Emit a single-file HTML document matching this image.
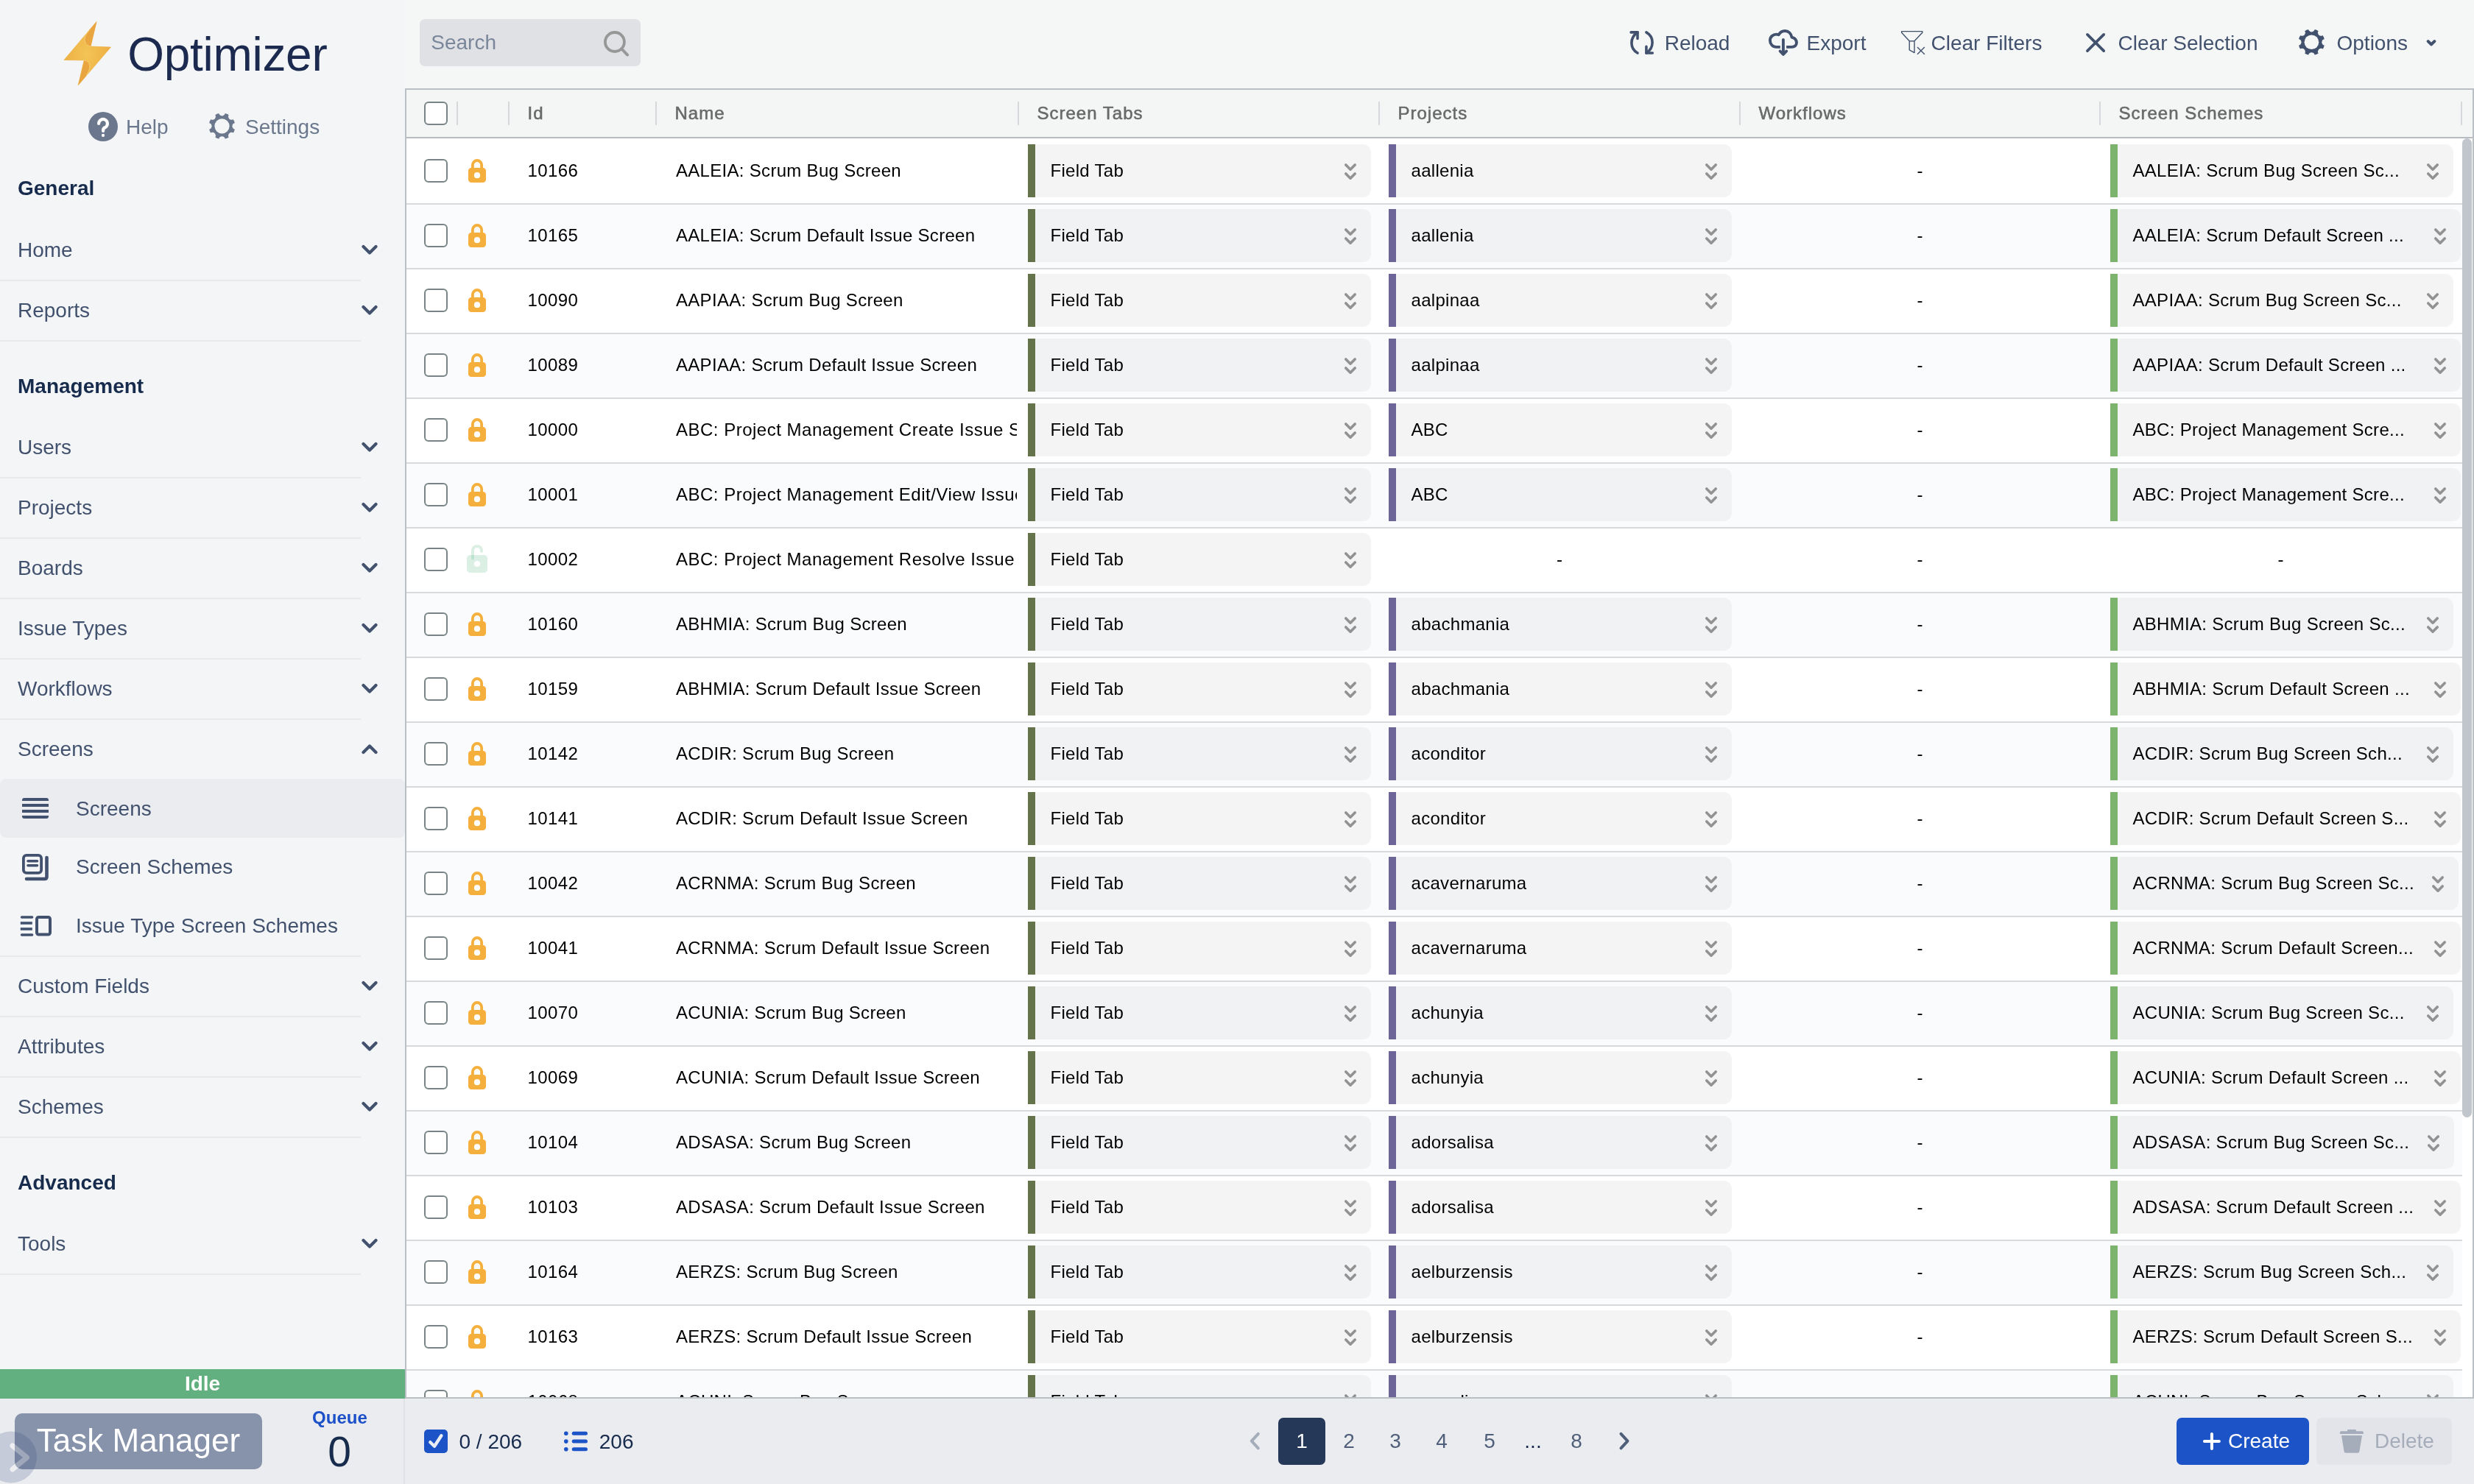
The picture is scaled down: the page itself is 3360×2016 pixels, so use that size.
<!DOCTYPE html>
<html><head><meta charset="utf-8"><title>Optimizer - Screens</title>
<style>
html,body{margin:0;padding:0;}
body{width:3360px;height:2016px;overflow:hidden;position:relative;background:#F5F6F6;font-family:"Liberation Sans", Arial, Helvetica, sans-serif;-webkit-font-smoothing:antialiased;}
.t{position:absolute;white-space:nowrap;}
.r{position:absolute;}
svg.r{overflow:visible;}
#root{position:absolute;left:0;top:0;width:3360px;height:2016px;overflow:hidden;will-change:transform;transform-origin:0 0;}
@media (max-width:2000px){body{width:1680px;height:1008px;} #root{transform:scale(0.5);}}
</style></head><body>
<div id="root">
<div class="r" style="left:0px;top:0px;width:550px;height:1860px;background:#F4F5F7;"></div>
<div class="r" style="left:550px;top:0px;width:2810px;height:1900px;background:#F5F6F6;"></div>
<svg class="r" style="left:80px;top:20px;" width="80" height="104" viewBox="0 0 80 104">
<defs><radialGradient id="bg1" cx="0.48" cy="0.5" r="0.6">
<stop offset="0" stop-color="#F4C456"/><stop offset="0.7" stop-color="#EEB347"/><stop offset="1" stop-color="#E9A23E"/></radialGradient></defs>
<polygon points="51.1,9.5 43.1,43.1 70.4,44.1 26.3,95.6 34.3,61.8 7,61.5" fill="url(#bg1)" stroke="#EFB24A" stroke-width="0.8" stroke-linejoin="round"/>
<path d="M51.1,9.5 L41.4,21 C36.5,26.5 34.6,30.5 35,35 C35.6,39.5 39,42.5 43.1,43.1 Z" fill="#E8A33F" opacity="0.9"/>
<path d="M41.4,21 C36.5,26.5 34.6,30.5 35,35 C35.6,39.5 39,42.5 43.1,43.1" fill="none" stroke="#F9D77C" stroke-width="0.9"/>
<path d="M26.3,95.6 L34.3,61.8 C38.5,62.3 42,65.5 42,70 C42,74.5 39.5,79 37.3,82.7 Z" fill="#E8A33F" opacity="0.9"/>
<path d="M34.3,61.8 C38.5,62.3 42,65.5 42,70 C42,74.5 39.5,79 37.3,82.7" fill="none" stroke="#F9D77C" stroke-width="0.9"/>
</svg>
<div class="t" style="left:173.3px;top:41.82px;font-size:64px;line-height:64px;color:#1B2A4E;font-weight:400;letter-spacing:-0.3px;">Optimizer</div>
<svg class="r" style="left:118px;top:150px;" width="44" height="44" viewBox="0 0 44 44">
<circle cx="22" cy="22" r="20" fill="#6B778C"/>
<path d="M16.1,17.9 A5.9,5.9 0 1 1 25,23 C23.2,23.9 22.1,24.9 22.1,26.5 L22.1,27.9" fill="none" stroke="#fff" stroke-width="4.2" stroke-linecap="round" stroke-linejoin="round"/>
<circle cx="22" cy="33.9" r="2.15" fill="#fff"/>
</svg>
<div class="t" style="left:171.0px;top:159.30px;font-size:28px;line-height:28px;color:#6B778C;font-weight:400;">Help</div>
<svg class="r" style="left:282px;top:152px;" width="40" height="40" viewBox="0 0 40 40"><circle cx="19.5" cy="19.3" r="17.9" fill="#6B778C"/><circle cx="19.50" cy="1.00" r="4.40" fill="#F4F5F7"/><circle cx="32.44" cy="6.36" r="4.40" fill="#F4F5F7"/><circle cx="37.80" cy="19.30" r="4.40" fill="#F4F5F7"/><circle cx="32.44" cy="32.24" r="4.40" fill="#F4F5F7"/><circle cx="19.50" cy="37.60" r="4.40" fill="#F4F5F7"/><circle cx="6.56" cy="32.24" r="4.40" fill="#F4F5F7"/><circle cx="1.20" cy="19.30" r="4.40" fill="#F4F5F7"/><circle cx="6.56" cy="6.36" r="4.40" fill="#F4F5F7"/><circle cx="19.5" cy="19.3" r="10.1" fill="#F4F5F7"/></svg>
<div class="t" style="left:333.0px;top:159.30px;font-size:28px;line-height:28px;color:#6B778C;font-weight:400;">Settings</div>
<div class="t" style="left:24.0px;top:242.30px;font-size:28px;line-height:28px;color:#172B4D;font-weight:700;">General</div>
<div class="t" style="left:24.0px;top:326.30px;font-size:28px;line-height:28px;color:#42526E;font-weight:400;">Home</div>
<svg class="r" style="left:489px;top:330px;" width="26" height="20" viewBox="0 0 26 20"><polyline points="4.5,5 13,13.5 21.5,5" fill="none" stroke="#42526E" stroke-width="4.2" stroke-linecap="round" stroke-linejoin="round"/></svg>
<div class="r" style="left:0px;top:380px;width:490px;height:2px;background:#E8E9ED;"></div>
<div class="t" style="left:24.0px;top:408.30px;font-size:28px;line-height:28px;color:#42526E;font-weight:400;">Reports</div>
<svg class="r" style="left:489px;top:412px;" width="26" height="20" viewBox="0 0 26 20"><polyline points="4.5,5 13,13.5 21.5,5" fill="none" stroke="#42526E" stroke-width="4.2" stroke-linecap="round" stroke-linejoin="round"/></svg>
<div class="r" style="left:0px;top:462px;width:490px;height:2px;background:#E8E9ED;"></div>
<div class="t" style="left:24.0px;top:510.80px;font-size:28px;line-height:28px;color:#172B4D;font-weight:700;">Management</div>
<div class="t" style="left:24.0px;top:594.30px;font-size:28px;line-height:28px;color:#42526E;font-weight:400;">Users</div>
<svg class="r" style="left:489px;top:598px;" width="26" height="20" viewBox="0 0 26 20"><polyline points="4.5,5 13,13.5 21.5,5" fill="none" stroke="#42526E" stroke-width="4.2" stroke-linecap="round" stroke-linejoin="round"/></svg>
<div class="r" style="left:0px;top:648px;width:490px;height:2px;background:#E8E9ED;"></div>
<div class="t" style="left:24.0px;top:676.30px;font-size:28px;line-height:28px;color:#42526E;font-weight:400;">Projects</div>
<svg class="r" style="left:489px;top:680px;" width="26" height="20" viewBox="0 0 26 20"><polyline points="4.5,5 13,13.5 21.5,5" fill="none" stroke="#42526E" stroke-width="4.2" stroke-linecap="round" stroke-linejoin="round"/></svg>
<div class="r" style="left:0px;top:730px;width:490px;height:2px;background:#E8E9ED;"></div>
<div class="t" style="left:24.0px;top:758.30px;font-size:28px;line-height:28px;color:#42526E;font-weight:400;">Boards</div>
<svg class="r" style="left:489px;top:762px;" width="26" height="20" viewBox="0 0 26 20"><polyline points="4.5,5 13,13.5 21.5,5" fill="none" stroke="#42526E" stroke-width="4.2" stroke-linecap="round" stroke-linejoin="round"/></svg>
<div class="r" style="left:0px;top:812px;width:490px;height:2px;background:#E8E9ED;"></div>
<div class="t" style="left:24.0px;top:840.30px;font-size:28px;line-height:28px;color:#42526E;font-weight:400;">Issue Types</div>
<svg class="r" style="left:489px;top:844px;" width="26" height="20" viewBox="0 0 26 20"><polyline points="4.5,5 13,13.5 21.5,5" fill="none" stroke="#42526E" stroke-width="4.2" stroke-linecap="round" stroke-linejoin="round"/></svg>
<div class="r" style="left:0px;top:894px;width:490px;height:2px;background:#E8E9ED;"></div>
<div class="t" style="left:24.0px;top:922.30px;font-size:28px;line-height:28px;color:#42526E;font-weight:400;">Workflows</div>
<svg class="r" style="left:489px;top:926px;" width="26" height="20" viewBox="0 0 26 20"><polyline points="4.5,5 13,13.5 21.5,5" fill="none" stroke="#42526E" stroke-width="4.2" stroke-linecap="round" stroke-linejoin="round"/></svg>
<div class="r" style="left:0px;top:976px;width:490px;height:2px;background:#E8E9ED;"></div>
<div class="t" style="left:24.0px;top:1004.30px;font-size:28px;line-height:28px;color:#42526E;font-weight:400;">Screens</div>
<svg class="r" style="left:489px;top:1008px;" width="26" height="20" viewBox="0 0 26 20"><polyline points="4.5,14 13,5.5 21.5,14" fill="none" stroke="#42526E" stroke-width="4.2" stroke-linecap="round" stroke-linejoin="round"/></svg>
<div class="r" style="left:0px;top:1058px;width:550px;height:80px;background:#EBECF0;border-radius:8px;"></div>
<svg class="r" style="left:28px;top:1080px;" width="40" height="36" viewBox="0 0 40 36">
<rect x="2" y="4" width="36" height="28" rx="3" fill="#42526E"/>
<rect x="0" y="8" width="40" height="4" fill="#EBECF0"/>
<rect x="0" y="16" width="40" height="4" fill="#EBECF0"/>
<rect x="0" y="24" width="40" height="4" fill="#EBECF0"/>
</svg>
<div class="t" style="left:103.0px;top:1084.70px;font-size:28px;line-height:28px;color:#42526E;font-weight:400;">Screens</div>
<svg class="r" style="left:28px;top:1156px;" width="42" height="44" viewBox="0 0 42 44">
<rect x="3.9" y="5.9" width="24.2" height="24" rx="4" fill="none" stroke="#42526E" stroke-width="3.8"/>
<line x1="10" y1="13.8" x2="22.5" y2="13.8" stroke="#42526E" stroke-width="3.6" stroke-linecap="round"/>
<line x1="10" y1="19.8" x2="22.5" y2="19.8" stroke="#42526E" stroke-width="3.6" stroke-linecap="round"/>
<path d="M35.5,9 L35.5,35 Q35.5,38 32.5,38 L8,38" fill="none" stroke="#42526E" stroke-width="4.6" stroke-linecap="round" stroke-linejoin="round"/>
</svg>
<div class="t" style="left:103.0px;top:1164.30px;font-size:28px;line-height:28px;color:#42526E;font-weight:400;">Screen Schemes</div>
<svg class="r" style="left:26px;top:1240px;" width="46" height="36" viewBox="0 0 46 36">
<line x1="3.6" y1="6" x2="17.6" y2="6" stroke="#42526E" stroke-width="3.6" stroke-linecap="round"/>
<line x1="1.8" y1="14" x2="17.8" y2="14" stroke="#42526E" stroke-width="3.6"/>
<line x1="1.8" y1="22" x2="17.8" y2="22" stroke="#42526E" stroke-width="3.6"/>
<line x1="3.6" y1="30" x2="17.6" y2="30" stroke="#42526E" stroke-width="3.6" stroke-linecap="round"/>
<rect x="24" y="6" width="18" height="23.6" rx="2.5" fill="none" stroke="#42526E" stroke-width="4"/>
</svg>
<div class="t" style="left:103.0px;top:1244.30px;font-size:28px;line-height:28px;color:#42526E;font-weight:400;">Issue Type Screen Schemes</div>
<div class="r" style="left:0px;top:1298px;width:490px;height:2px;background:#E8E9ED;"></div>
<div class="t" style="left:24.0px;top:1326.30px;font-size:28px;line-height:28px;color:#42526E;font-weight:400;">Custom Fields</div>
<svg class="r" style="left:489px;top:1330px;" width="26" height="20" viewBox="0 0 26 20"><polyline points="4.5,5 13,13.5 21.5,5" fill="none" stroke="#42526E" stroke-width="4.2" stroke-linecap="round" stroke-linejoin="round"/></svg>
<div class="r" style="left:0px;top:1380px;width:490px;height:2px;background:#E8E9ED;"></div>
<div class="t" style="left:24.0px;top:1408.30px;font-size:28px;line-height:28px;color:#42526E;font-weight:400;">Attributes</div>
<svg class="r" style="left:489px;top:1412px;" width="26" height="20" viewBox="0 0 26 20"><polyline points="4.5,5 13,13.5 21.5,5" fill="none" stroke="#42526E" stroke-width="4.2" stroke-linecap="round" stroke-linejoin="round"/></svg>
<div class="r" style="left:0px;top:1462px;width:490px;height:2px;background:#E8E9ED;"></div>
<div class="t" style="left:24.0px;top:1490.30px;font-size:28px;line-height:28px;color:#42526E;font-weight:400;">Schemes</div>
<svg class="r" style="left:489px;top:1494px;" width="26" height="20" viewBox="0 0 26 20"><polyline points="4.5,5 13,13.5 21.5,5" fill="none" stroke="#42526E" stroke-width="4.2" stroke-linecap="round" stroke-linejoin="round"/></svg>
<div class="r" style="left:0px;top:1544px;width:490px;height:2px;background:#E8E9ED;"></div>
<div class="t" style="left:24.0px;top:1592.80px;font-size:28px;line-height:28px;color:#172B4D;font-weight:700;">Advanced</div>
<div class="t" style="left:24.0px;top:1676.30px;font-size:28px;line-height:28px;color:#42526E;font-weight:400;">Tools</div>
<svg class="r" style="left:489px;top:1680px;" width="26" height="20" viewBox="0 0 26 20"><polyline points="4.5,5 13,13.5 21.5,5" fill="none" stroke="#42526E" stroke-width="4.2" stroke-linecap="round" stroke-linejoin="round"/></svg>
<div class="r" style="left:0px;top:1730px;width:490px;height:2px;background:#E8E9ED;"></div>
<div class="r" style="left:0px;top:1860px;width:550px;height:40px;background:#62B07F;"></div>
<div class="t" style="left:75.0px;width:400px;text-align:center;top:1866.30px;font-size:28px;line-height:28px;color:#FFFFFF;font-weight:700;">Idle</div>
<div class="r" style="left:0px;top:1900px;width:3360px;height:116px;background:#EBECF0;"></div>
<div class="r" style="left:548px;top:1900px;width:2px;height:116px;background:#DFE1E6;"></div>
<div class="r" style="left:20px;top:1920px;width:336px;height:76px;background:#8792AB;border-radius:10px;"></div>
<div class="t" style="left:20.0px;width:336px;text-align:center;top:1935.15px;font-size:44px;line-height:44px;color:#FFFFFF;font-weight:400;">Task Manager</div>
<div class="t" style="left:401.4px;width:120px;text-align:center;top:1913.68px;font-size:24px;line-height:24px;color:#1B50C9;font-weight:700;">Queue</div>
<div class="t" style="left:401.0px;width:120px;text-align:center;top:1943.75px;font-size:57px;line-height:57px;color:#172B4D;font-weight:400;">0</div>
<svg class="r" style="left:0px;top:1940px;" width="60" height="76" viewBox="0 0 60 76">
<g opacity="0.2"><circle cx="15" cy="39.5" r="35" fill="#2D4C7D"/>
<polyline points="17,24 36.5,40 17,56" fill="none" stroke="#FFFFFF" stroke-width="7" stroke-linecap="round" stroke-linejoin="round"/></g>
</svg>
<div class="r" style="left:570px;top:26px;width:300px;height:64px;background:#E0E1E5;border-radius:7px;"></div>
<div class="t" style="left:585.3px;top:44.30px;font-size:28px;line-height:28px;color:#7A869A;font-weight:400;">Search</div>
<svg class="r" style="left:818px;top:38px;" width="44" height="44" viewBox="0 0 44 44"><circle cx="16.9" cy="19" r="13" fill="none" stroke="#979797" stroke-width="3.8"/><line x1="26.5" y1="28.6" x2="34.1" y2="36.6" stroke="#979797" stroke-width="3.8" stroke-linecap="round"/></svg>
<svg class="r" style="left:2208px;top:36px;" width="44" height="44" viewBox="0 0 44 44">
<g fill="none" stroke="#42526E" stroke-width="3.6" stroke-linecap="round" stroke-linejoin="round">
<path d="M7.1,7.9 L16,7.9 L16,16.5"/>
<path d="M16,7.9 C10.5,11.5 7.9,16.5 7.9,22.2 C7.9,28.2 11.2,33.2 16,36"/>
<path d="M27.9,7.9 C32.9,10.8 36.1,16 36.1,21.8 C36.1,27.5 33.4,32.5 27.9,36"/>
<path d="M27.9,27.4 L27.9,36 L36.3,36"/>
</g></svg>
<div class="t" style="left:2260.7px;top:44.90px;font-size:28px;line-height:28px;color:#42526E;font-weight:400;">Reload</div>
<svg class="r" style="left:2396px;top:34px;" width="52" height="46" viewBox="0 0 52 46">
<path d="M21.8,29.85 L16.5,29.85 C11.5,29.85 7.95,25.8 7.95,21 C7.95,16.2 11.8,12.65 16.6,12.65 C17.6,12.65 18.6,12.8 19.6,13.2 C21.6,9.8 24.6,7.99 28.2,7.99 C33,7.99 36.5,11.5 37.5,16.6 C41.4,17.6 43.95,20.6 43.95,24.1 C43.95,27.6 41.3,29.85 37.6,29.85 L30.1,29.85" fill="none" stroke="#42526E" stroke-width="3.9" stroke-linejoin="round"/>
<line x1="25.9" y1="20" x2="25.9" y2="38.5" stroke="#42526E" stroke-width="3.9" stroke-linecap="round"/>
<polyline points="21.6,35.5 25.9,39.85 30.2,35.5" fill="none" stroke="#42526E" stroke-width="3.9" stroke-linecap="round" stroke-linejoin="round"/>
</svg>
<div class="t" style="left:2453.5px;top:44.90px;font-size:28px;line-height:28px;color:#42526E;font-weight:400;">Export</div>
<svg class="r" style="left:2580px;top:40px;" width="40" height="36" viewBox="0 0 40 36">
<path d="M2.6,2.6 L30.8,2.6 L30.8,4.3 L20,15.8 L20,31.6 L13.2,27.8 L13.2,15.8 L2.6,4.3 Z" fill="none" stroke="#42526E" stroke-width="1.4" stroke-linejoin="round"/>
<line x1="13.2" y1="15.8" x2="20" y2="15.8" stroke="#42526E" stroke-width="1.4"/>
<line x1="24" y1="24" x2="33.8" y2="33.8" stroke="#42526E" stroke-width="1.4"/>
<line x1="33.8" y1="24" x2="24" y2="33.8" stroke="#42526E" stroke-width="1.4"/>
</svg>
<div class="t" style="left:2622.5px;top:44.90px;font-size:28px;line-height:28px;color:#42526E;font-weight:400;">Clear Filters</div>
<svg class="r" style="left:2830px;top:42px;" width="32" height="32" viewBox="0 0 32 32">
<line x1="4.9" y1="4.85" x2="27.2" y2="27.15" stroke="#42526E" stroke-width="3.7" stroke-linecap="round"/>
<line x1="27.2" y1="4.85" x2="4.9" y2="27.15" stroke="#42526E" stroke-width="3.7" stroke-linecap="round"/>
</svg>
<div class="t" style="left:2876.6px;top:44.90px;font-size:28px;line-height:28px;color:#42526E;font-weight:400;">Clear Selection</div>
<svg class="r" style="left:3118px;top:36px;" width="44" height="44" viewBox="0 0 44 44"><circle cx="21.4" cy="21.3" r="17.9" fill="#42526E"/><circle cx="21.40" cy="3.00" r="4.40" fill="#F5F6F6"/><circle cx="34.34" cy="8.36" r="4.40" fill="#F5F6F6"/><circle cx="39.70" cy="21.30" r="4.40" fill="#F5F6F6"/><circle cx="34.34" cy="34.24" r="4.40" fill="#F5F6F6"/><circle cx="21.40" cy="39.60" r="4.40" fill="#F5F6F6"/><circle cx="8.46" cy="34.24" r="4.40" fill="#F5F6F6"/><circle cx="3.10" cy="21.30" r="4.40" fill="#F5F6F6"/><circle cx="8.46" cy="8.36" r="4.40" fill="#F5F6F6"/><circle cx="21.4" cy="21.3" r="9.8" fill="#F5F6F6"/></svg>
<div class="t" style="left:3173.5px;top:44.90px;font-size:28px;line-height:28px;color:#42526E;font-weight:400;">Options</div>
<svg class="r" style="left:3290px;top:48px;" width="24" height="20" viewBox="0 0 24 20"><polyline points="7.7,8.1 12,12.4 16.3,8.1" fill="none" stroke="#42526E" stroke-width="4.1" stroke-linecap="round" stroke-linejoin="round"/></svg>
<div class="r" style="left:550px;top:120px;width:2810px;height:2px;background:#BABFC4;"></div>
<div class="r" style="left:550px;top:120px;width:2px;height:1780px;background:#BABFC4;"></div>
<div class="r" style="left:3358px;top:120px;width:2px;height:1780px;background:#BABFC4;"></div>
<div class="r" style="left:550px;top:1898px;width:2810px;height:2px;background:#BABFC4;"></div>
<div class="r" style="left:552px;top:122px;width:2806px;height:64px;background:#F4F6F5;"></div>
<div class="r" style="left:552px;top:186px;width:2806px;height:2px;background:#B8BCC0;"></div>
<div class="r" style="left:620px;top:138px;width:2px;height:32px;background:#D5D9DC;"></div>
<div class="r" style="left:690px;top:138px;width:2px;height:32px;background:#D5D9DC;"></div>
<div class="r" style="left:890px;top:138px;width:2px;height:32px;background:#D5D9DC;"></div>
<div class="r" style="left:1382px;top:138px;width:2px;height:32px;background:#D5D9DC;"></div>
<div class="r" style="left:1872px;top:138px;width:2px;height:32px;background:#D5D9DC;"></div>
<div class="r" style="left:2362px;top:138px;width:2px;height:32px;background:#D5D9DC;"></div>
<div class="r" style="left:2851px;top:138px;width:2px;height:32px;background:#D5D9DC;"></div>
<div class="r" style="left:3342px;top:138px;width:2px;height:32px;background:#D5D9DC;"></div>
<div class="r" style="left:576px;top:138px;width:28px;height:28px;border:2px solid #7A8486;border-radius:6px;background:#FFFFFF;"></div>
<div class="t" style="left:716.5px;top:141.88px;font-size:24px;line-height:24px;color:#686969;font-weight:400;letter-spacing:1.0px;-webkit-text-stroke:0.55px #686969;">Id</div>
<div class="t" style="left:916.5px;top:141.88px;font-size:24px;line-height:24px;color:#686969;font-weight:400;letter-spacing:1.0px;-webkit-text-stroke:0.55px #686969;">Name</div>
<div class="t" style="left:1408.5px;top:141.88px;font-size:24px;line-height:24px;color:#686969;font-weight:400;letter-spacing:1.0px;-webkit-text-stroke:0.55px #686969;">Screen Tabs</div>
<div class="t" style="left:1898.5px;top:141.88px;font-size:24px;line-height:24px;color:#686969;font-weight:400;letter-spacing:1.0px;-webkit-text-stroke:0.55px #686969;">Projects</div>
<div class="t" style="left:2388.5px;top:141.88px;font-size:24px;line-height:24px;color:#686969;font-weight:400;letter-spacing:1.0px;-webkit-text-stroke:0.55px #686969;">Workflows</div>
<div class="t" style="left:2877.5px;top:141.88px;font-size:24px;line-height:24px;color:#686969;font-weight:400;letter-spacing:1.0px;-webkit-text-stroke:0.55px #686969;">Screen Schemes</div>
<div class="r" style="left:552px;top:188px;width:2792px;height:88px;background:#FFFFFF;"></div>
<div class="r" style="left:552px;top:276px;width:2792px;height:2px;background:#D8D9DB;"></div>
<div class="r" style="left:576px;top:216px;width:28px;height:28px;border:2px solid #7A8486;border-radius:6px;background:#FFFFFF;"></div>
<svg class="r" style="left:635px;top:216px;" width="26" height="33" viewBox="0 0 26 33"><rect x="1" y="12" width="24" height="20" rx="4.2" fill="#F4AF3D"/>
<path d="M6.9,13 L6.9,8.1 A6.1,6.1 0 0 1 19.1,8.1 L19.1,13" fill="none" stroke="#F4AF3D" stroke-width="3.8"/>
<circle cx="13" cy="22.2" r="4.1" fill="#FFFFFF"/></svg>
<div class="t" style="left:716.5px;top:220.08px;font-size:24px;line-height:24px;color:#000000;font-weight:400;letter-spacing:0.4px;">10166</div>
<div class="r" style="left:891px;top:212px;width:490px;height:40px;overflow:hidden;">
<div class="t" style="left:27.0px;top:8.08px;font-size:24px;line-height:24px;color:#000000;font-weight:400;white-space:nowrap;letter-spacing:0.3px;">AALEIA: Scrum Bug Screen</div>
</div>
<div class="r" style="left:1396px;top:196px;width:466px;height:72px;background:#F4F4F4;border-radius:0 11px 11px 0;"></div>
<div class="r" style="left:1396px;top:196px;width:10px;height:72px;background:#65734A;"></div>
<div class="t" style="left:1426.5px;top:220.08px;font-size:24px;line-height:24px;color:#000000;font-weight:400;white-space:nowrap;letter-spacing:0.3px;">Field Tab</div>
<svg class="r" style="left:1822px;top:218px;" width="24" height="28" viewBox="0 0 24 28">
<polyline points="5.8,6 12,12.2 18.2,6" fill="none" stroke="#929292" stroke-width="3.6" stroke-linecap="round" stroke-linejoin="round"/>
<polyline points="5.8,18 12,24.2 18.2,18" fill="none" stroke="#929292" stroke-width="3.6" stroke-linecap="round" stroke-linejoin="round"/>
</svg>
<div class="r" style="left:1886px;top:196px;width:466px;height:72px;background:#F4F4F4;border-radius:0 11px 11px 0;"></div>
<div class="r" style="left:1886px;top:196px;width:10px;height:72px;background:#6D6598;"></div>
<div class="t" style="left:1916.5px;top:220.08px;font-size:24px;line-height:24px;color:#000000;font-weight:400;white-space:nowrap;letter-spacing:0.3px;">aallenia</div>
<svg class="r" style="left:2312px;top:218px;" width="24" height="28" viewBox="0 0 24 28">
<polyline points="5.8,6 12,12.2 18.2,6" fill="none" stroke="#929292" stroke-width="3.6" stroke-linecap="round" stroke-linejoin="round"/>
<polyline points="5.8,18 12,24.2 18.2,18" fill="none" stroke="#929292" stroke-width="3.6" stroke-linecap="round" stroke-linejoin="round"/>
</svg>
<div class="t" style="left:2407.5px;width:400px;text-align:center;top:220.08px;font-size:24px;line-height:24px;color:#000000;font-weight:400;">-</div>
<div class="r" style="left:2866px;top:196px;width:466px;height:72px;background:#F4F4F4;border-radius:0 11px 11px 0;"></div>
<div class="r" style="left:2866px;top:196px;width:10px;height:72px;background:#7DB46D;"></div>
<div class="t" style="left:2896.5px;top:220.08px;font-size:24px;line-height:24px;color:#000000;font-weight:400;white-space:nowrap;letter-spacing:0.3px;">AALEIA: Scrum Bug Screen Sc...</div>
<svg class="r" style="left:3292px;top:218px;" width="24" height="28" viewBox="0 0 24 28">
<polyline points="5.8,6 12,12.2 18.2,6" fill="none" stroke="#929292" stroke-width="3.6" stroke-linecap="round" stroke-linejoin="round"/>
<polyline points="5.8,18 12,24.2 18.2,18" fill="none" stroke="#929292" stroke-width="3.6" stroke-linecap="round" stroke-linejoin="round"/>
</svg>
<div class="r" style="left:552px;top:278px;width:2792px;height:86px;background:#FAFBFD;"></div>
<div class="r" style="left:552px;top:364px;width:2792px;height:2px;background:#D8D9DB;"></div>
<div class="r" style="left:576px;top:304px;width:28px;height:28px;border:2px solid #7A8486;border-radius:6px;background:#FFFFFF;"></div>
<svg class="r" style="left:635px;top:304px;" width="26" height="33" viewBox="0 0 26 33"><rect x="1" y="12" width="24" height="20" rx="4.2" fill="#F4AF3D"/>
<path d="M6.9,13 L6.9,8.1 A6.1,6.1 0 0 1 19.1,8.1 L19.1,13" fill="none" stroke="#F4AF3D" stroke-width="3.8"/>
<circle cx="13" cy="22.2" r="4.1" fill="#FFFFFF"/></svg>
<div class="t" style="left:716.5px;top:308.08px;font-size:24px;line-height:24px;color:#000000;font-weight:400;letter-spacing:0.4px;">10165</div>
<div class="r" style="left:891px;top:300px;width:490px;height:40px;overflow:hidden;">
<div class="t" style="left:27.0px;top:8.08px;font-size:24px;line-height:24px;color:#000000;font-weight:400;white-space:nowrap;letter-spacing:0.3px;">AALEIA: Scrum Default Issue Screen</div>
</div>
<div class="r" style="left:1396px;top:284px;width:466px;height:72px;background:#F1F2F4;border-radius:0 11px 11px 0;"></div>
<div class="r" style="left:1396px;top:284px;width:10px;height:72px;background:#65734A;"></div>
<div class="t" style="left:1426.5px;top:308.08px;font-size:24px;line-height:24px;color:#000000;font-weight:400;white-space:nowrap;letter-spacing:0.3px;">Field Tab</div>
<svg class="r" style="left:1822px;top:306px;" width="24" height="28" viewBox="0 0 24 28">
<polyline points="5.8,6 12,12.2 18.2,6" fill="none" stroke="#929292" stroke-width="3.6" stroke-linecap="round" stroke-linejoin="round"/>
<polyline points="5.8,18 12,24.2 18.2,18" fill="none" stroke="#929292" stroke-width="3.6" stroke-linecap="round" stroke-linejoin="round"/>
</svg>
<div class="r" style="left:1886px;top:284px;width:466px;height:72px;background:#F1F2F4;border-radius:0 11px 11px 0;"></div>
<div class="r" style="left:1886px;top:284px;width:10px;height:72px;background:#6D6598;"></div>
<div class="t" style="left:1916.5px;top:308.08px;font-size:24px;line-height:24px;color:#000000;font-weight:400;white-space:nowrap;letter-spacing:0.3px;">aallenia</div>
<svg class="r" style="left:2312px;top:306px;" width="24" height="28" viewBox="0 0 24 28">
<polyline points="5.8,6 12,12.2 18.2,6" fill="none" stroke="#929292" stroke-width="3.6" stroke-linecap="round" stroke-linejoin="round"/>
<polyline points="5.8,18 12,24.2 18.2,18" fill="none" stroke="#929292" stroke-width="3.6" stroke-linecap="round" stroke-linejoin="round"/>
</svg>
<div class="t" style="left:2407.5px;width:400px;text-align:center;top:308.08px;font-size:24px;line-height:24px;color:#000000;font-weight:400;">-</div>
<div class="r" style="left:2866px;top:284px;width:476px;height:72px;background:#F1F2F4;border-radius:0 11px 11px 0;"></div>
<div class="r" style="left:2866px;top:284px;width:10px;height:72px;background:#7DB46D;"></div>
<div class="t" style="left:2896.5px;top:308.08px;font-size:24px;line-height:24px;color:#000000;font-weight:400;white-space:nowrap;letter-spacing:0.3px;">AALEIA: Scrum Default Screen ...</div>
<svg class="r" style="left:3302px;top:306px;" width="24" height="28" viewBox="0 0 24 28">
<polyline points="5.8,6 12,12.2 18.2,6" fill="none" stroke="#929292" stroke-width="3.6" stroke-linecap="round" stroke-linejoin="round"/>
<polyline points="5.8,18 12,24.2 18.2,18" fill="none" stroke="#929292" stroke-width="3.6" stroke-linecap="round" stroke-linejoin="round"/>
</svg>
<div class="r" style="left:552px;top:366px;width:2792px;height:86px;background:#FFFFFF;"></div>
<div class="r" style="left:552px;top:452px;width:2792px;height:2px;background:#D8D9DB;"></div>
<div class="r" style="left:576px;top:392px;width:28px;height:28px;border:2px solid #7A8486;border-radius:6px;background:#FFFFFF;"></div>
<svg class="r" style="left:635px;top:392px;" width="26" height="33" viewBox="0 0 26 33"><rect x="1" y="12" width="24" height="20" rx="4.2" fill="#F4AF3D"/>
<path d="M6.9,13 L6.9,8.1 A6.1,6.1 0 0 1 19.1,8.1 L19.1,13" fill="none" stroke="#F4AF3D" stroke-width="3.8"/>
<circle cx="13" cy="22.2" r="4.1" fill="#FFFFFF"/></svg>
<div class="t" style="left:716.5px;top:396.08px;font-size:24px;line-height:24px;color:#000000;font-weight:400;letter-spacing:0.4px;">10090</div>
<div class="r" style="left:891px;top:388px;width:490px;height:40px;overflow:hidden;">
<div class="t" style="left:27.0px;top:8.08px;font-size:24px;line-height:24px;color:#000000;font-weight:400;white-space:nowrap;letter-spacing:0.3px;">AAPIAA: Scrum Bug Screen</div>
</div>
<div class="r" style="left:1396px;top:372px;width:466px;height:72px;background:#F4F4F4;border-radius:0 11px 11px 0;"></div>
<div class="r" style="left:1396px;top:372px;width:10px;height:72px;background:#65734A;"></div>
<div class="t" style="left:1426.5px;top:396.08px;font-size:24px;line-height:24px;color:#000000;font-weight:400;white-space:nowrap;letter-spacing:0.3px;">Field Tab</div>
<svg class="r" style="left:1822px;top:394px;" width="24" height="28" viewBox="0 0 24 28">
<polyline points="5.8,6 12,12.2 18.2,6" fill="none" stroke="#929292" stroke-width="3.6" stroke-linecap="round" stroke-linejoin="round"/>
<polyline points="5.8,18 12,24.2 18.2,18" fill="none" stroke="#929292" stroke-width="3.6" stroke-linecap="round" stroke-linejoin="round"/>
</svg>
<div class="r" style="left:1886px;top:372px;width:466px;height:72px;background:#F4F4F4;border-radius:0 11px 11px 0;"></div>
<div class="r" style="left:1886px;top:372px;width:10px;height:72px;background:#6D6598;"></div>
<div class="t" style="left:1916.5px;top:396.08px;font-size:24px;line-height:24px;color:#000000;font-weight:400;white-space:nowrap;letter-spacing:0.3px;">aalpinaa</div>
<svg class="r" style="left:2312px;top:394px;" width="24" height="28" viewBox="0 0 24 28">
<polyline points="5.8,6 12,12.2 18.2,6" fill="none" stroke="#929292" stroke-width="3.6" stroke-linecap="round" stroke-linejoin="round"/>
<polyline points="5.8,18 12,24.2 18.2,18" fill="none" stroke="#929292" stroke-width="3.6" stroke-linecap="round" stroke-linejoin="round"/>
</svg>
<div class="t" style="left:2407.5px;width:400px;text-align:center;top:396.08px;font-size:24px;line-height:24px;color:#000000;font-weight:400;">-</div>
<div class="r" style="left:2866px;top:372px;width:466px;height:72px;background:#F4F4F4;border-radius:0 11px 11px 0;"></div>
<div class="r" style="left:2866px;top:372px;width:10px;height:72px;background:#7DB46D;"></div>
<div class="t" style="left:2896.5px;top:396.08px;font-size:24px;line-height:24px;color:#000000;font-weight:400;white-space:nowrap;letter-spacing:0.3px;">AAPIAA: Scrum Bug Screen Sc...</div>
<svg class="r" style="left:3292px;top:394px;" width="24" height="28" viewBox="0 0 24 28">
<polyline points="5.8,6 12,12.2 18.2,6" fill="none" stroke="#929292" stroke-width="3.6" stroke-linecap="round" stroke-linejoin="round"/>
<polyline points="5.8,18 12,24.2 18.2,18" fill="none" stroke="#929292" stroke-width="3.6" stroke-linecap="round" stroke-linejoin="round"/>
</svg>
<div class="r" style="left:552px;top:454px;width:2792px;height:86px;background:#FAFBFD;"></div>
<div class="r" style="left:552px;top:540px;width:2792px;height:2px;background:#D8D9DB;"></div>
<div class="r" style="left:576px;top:480px;width:28px;height:28px;border:2px solid #7A8486;border-radius:6px;background:#FFFFFF;"></div>
<svg class="r" style="left:635px;top:480px;" width="26" height="33" viewBox="0 0 26 33"><rect x="1" y="12" width="24" height="20" rx="4.2" fill="#F4AF3D"/>
<path d="M6.9,13 L6.9,8.1 A6.1,6.1 0 0 1 19.1,8.1 L19.1,13" fill="none" stroke="#F4AF3D" stroke-width="3.8"/>
<circle cx="13" cy="22.2" r="4.1" fill="#FFFFFF"/></svg>
<div class="t" style="left:716.5px;top:484.08px;font-size:24px;line-height:24px;color:#000000;font-weight:400;letter-spacing:0.4px;">10089</div>
<div class="r" style="left:891px;top:476px;width:490px;height:40px;overflow:hidden;">
<div class="t" style="left:27.0px;top:8.08px;font-size:24px;line-height:24px;color:#000000;font-weight:400;white-space:nowrap;letter-spacing:0.3px;">AAPIAA: Scrum Default Issue Screen</div>
</div>
<div class="r" style="left:1396px;top:460px;width:466px;height:72px;background:#F1F2F4;border-radius:0 11px 11px 0;"></div>
<div class="r" style="left:1396px;top:460px;width:10px;height:72px;background:#65734A;"></div>
<div class="t" style="left:1426.5px;top:484.08px;font-size:24px;line-height:24px;color:#000000;font-weight:400;white-space:nowrap;letter-spacing:0.3px;">Field Tab</div>
<svg class="r" style="left:1822px;top:482px;" width="24" height="28" viewBox="0 0 24 28">
<polyline points="5.8,6 12,12.2 18.2,6" fill="none" stroke="#929292" stroke-width="3.6" stroke-linecap="round" stroke-linejoin="round"/>
<polyline points="5.8,18 12,24.2 18.2,18" fill="none" stroke="#929292" stroke-width="3.6" stroke-linecap="round" stroke-linejoin="round"/>
</svg>
<div class="r" style="left:1886px;top:460px;width:466px;height:72px;background:#F1F2F4;border-radius:0 11px 11px 0;"></div>
<div class="r" style="left:1886px;top:460px;width:10px;height:72px;background:#6D6598;"></div>
<div class="t" style="left:1916.5px;top:484.08px;font-size:24px;line-height:24px;color:#000000;font-weight:400;white-space:nowrap;letter-spacing:0.3px;">aalpinaa</div>
<svg class="r" style="left:2312px;top:482px;" width="24" height="28" viewBox="0 0 24 28">
<polyline points="5.8,6 12,12.2 18.2,6" fill="none" stroke="#929292" stroke-width="3.6" stroke-linecap="round" stroke-linejoin="round"/>
<polyline points="5.8,18 12,24.2 18.2,18" fill="none" stroke="#929292" stroke-width="3.6" stroke-linecap="round" stroke-linejoin="round"/>
</svg>
<div class="t" style="left:2407.5px;width:400px;text-align:center;top:484.08px;font-size:24px;line-height:24px;color:#000000;font-weight:400;">-</div>
<div class="r" style="left:2866px;top:460px;width:476px;height:72px;background:#F1F2F4;border-radius:0 11px 11px 0;"></div>
<div class="r" style="left:2866px;top:460px;width:10px;height:72px;background:#7DB46D;"></div>
<div class="t" style="left:2896.5px;top:484.08px;font-size:24px;line-height:24px;color:#000000;font-weight:400;white-space:nowrap;letter-spacing:0.3px;">AAPIAA: Scrum Default Screen ...</div>
<svg class="r" style="left:3302px;top:482px;" width="24" height="28" viewBox="0 0 24 28">
<polyline points="5.8,6 12,12.2 18.2,6" fill="none" stroke="#929292" stroke-width="3.6" stroke-linecap="round" stroke-linejoin="round"/>
<polyline points="5.8,18 12,24.2 18.2,18" fill="none" stroke="#929292" stroke-width="3.6" stroke-linecap="round" stroke-linejoin="round"/>
</svg>
<div class="r" style="left:552px;top:542px;width:2792px;height:86px;background:#FFFFFF;"></div>
<div class="r" style="left:552px;top:628px;width:2792px;height:2px;background:#D8D9DB;"></div>
<div class="r" style="left:576px;top:568px;width:28px;height:28px;border:2px solid #7A8486;border-radius:6px;background:#FFFFFF;"></div>
<svg class="r" style="left:635px;top:568px;" width="26" height="33" viewBox="0 0 26 33"><rect x="1" y="12" width="24" height="20" rx="4.2" fill="#F4AF3D"/>
<path d="M6.9,13 L6.9,8.1 A6.1,6.1 0 0 1 19.1,8.1 L19.1,13" fill="none" stroke="#F4AF3D" stroke-width="3.8"/>
<circle cx="13" cy="22.2" r="4.1" fill="#FFFFFF"/></svg>
<div class="t" style="left:716.5px;top:572.08px;font-size:24px;line-height:24px;color:#000000;font-weight:400;letter-spacing:0.4px;">10000</div>
<div class="r" style="left:891px;top:564px;width:490px;height:40px;overflow:hidden;">
<div class="t" style="left:27.0px;top:8.08px;font-size:24px;line-height:24px;color:#000000;font-weight:400;white-space:nowrap;letter-spacing:0.5px;">ABC: Project Management Create Issue Screen</div>
</div>
<div class="r" style="left:1396px;top:548px;width:466px;height:72px;background:#F4F4F4;border-radius:0 11px 11px 0;"></div>
<div class="r" style="left:1396px;top:548px;width:10px;height:72px;background:#65734A;"></div>
<div class="t" style="left:1426.5px;top:572.08px;font-size:24px;line-height:24px;color:#000000;font-weight:400;white-space:nowrap;letter-spacing:0.3px;">Field Tab</div>
<svg class="r" style="left:1822px;top:570px;" width="24" height="28" viewBox="0 0 24 28">
<polyline points="5.8,6 12,12.2 18.2,6" fill="none" stroke="#929292" stroke-width="3.6" stroke-linecap="round" stroke-linejoin="round"/>
<polyline points="5.8,18 12,24.2 18.2,18" fill="none" stroke="#929292" stroke-width="3.6" stroke-linecap="round" stroke-linejoin="round"/>
</svg>
<div class="r" style="left:1886px;top:548px;width:466px;height:72px;background:#F4F4F4;border-radius:0 11px 11px 0;"></div>
<div class="r" style="left:1886px;top:548px;width:10px;height:72px;background:#6D6598;"></div>
<div class="t" style="left:1916.5px;top:572.08px;font-size:24px;line-height:24px;color:#000000;font-weight:400;white-space:nowrap;letter-spacing:0.3px;">ABC</div>
<svg class="r" style="left:2312px;top:570px;" width="24" height="28" viewBox="0 0 24 28">
<polyline points="5.8,6 12,12.2 18.2,6" fill="none" stroke="#929292" stroke-width="3.6" stroke-linecap="round" stroke-linejoin="round"/>
<polyline points="5.8,18 12,24.2 18.2,18" fill="none" stroke="#929292" stroke-width="3.6" stroke-linecap="round" stroke-linejoin="round"/>
</svg>
<div class="t" style="left:2407.5px;width:400px;text-align:center;top:572.08px;font-size:24px;line-height:24px;color:#000000;font-weight:400;">-</div>
<div class="r" style="left:2866px;top:548px;width:476px;height:72px;background:#F4F4F4;border-radius:0 11px 11px 0;"></div>
<div class="r" style="left:2866px;top:548px;width:10px;height:72px;background:#7DB46D;"></div>
<div class="t" style="left:2896.5px;top:572.08px;font-size:24px;line-height:24px;color:#000000;font-weight:400;white-space:nowrap;letter-spacing:0.3px;">ABC: Project Management Scre...</div>
<svg class="r" style="left:3302px;top:570px;" width="24" height="28" viewBox="0 0 24 28">
<polyline points="5.8,6 12,12.2 18.2,6" fill="none" stroke="#929292" stroke-width="3.6" stroke-linecap="round" stroke-linejoin="round"/>
<polyline points="5.8,18 12,24.2 18.2,18" fill="none" stroke="#929292" stroke-width="3.6" stroke-linecap="round" stroke-linejoin="round"/>
</svg>
<div class="r" style="left:552px;top:630px;width:2792px;height:86px;background:#FAFBFD;"></div>
<div class="r" style="left:552px;top:716px;width:2792px;height:2px;background:#D8D9DB;"></div>
<div class="r" style="left:576px;top:656px;width:28px;height:28px;border:2px solid #7A8486;border-radius:6px;background:#FFFFFF;"></div>
<svg class="r" style="left:635px;top:656px;" width="26" height="33" viewBox="0 0 26 33"><rect x="1" y="12" width="24" height="20" rx="4.2" fill="#F4AF3D"/>
<path d="M6.9,13 L6.9,8.1 A6.1,6.1 0 0 1 19.1,8.1 L19.1,13" fill="none" stroke="#F4AF3D" stroke-width="3.8"/>
<circle cx="13" cy="22.2" r="4.1" fill="#FFFFFF"/></svg>
<div class="t" style="left:716.5px;top:660.08px;font-size:24px;line-height:24px;color:#000000;font-weight:400;letter-spacing:0.4px;">10001</div>
<div class="r" style="left:891px;top:652px;width:490px;height:40px;overflow:hidden;">
<div class="t" style="left:27.0px;top:8.08px;font-size:24px;line-height:24px;color:#000000;font-weight:400;white-space:nowrap;letter-spacing:0.5px;">ABC: Project Management Edit/View Issue Screen</div>
</div>
<div class="r" style="left:1396px;top:636px;width:466px;height:72px;background:#F1F2F4;border-radius:0 11px 11px 0;"></div>
<div class="r" style="left:1396px;top:636px;width:10px;height:72px;background:#65734A;"></div>
<div class="t" style="left:1426.5px;top:660.08px;font-size:24px;line-height:24px;color:#000000;font-weight:400;white-space:nowrap;letter-spacing:0.3px;">Field Tab</div>
<svg class="r" style="left:1822px;top:658px;" width="24" height="28" viewBox="0 0 24 28">
<polyline points="5.8,6 12,12.2 18.2,6" fill="none" stroke="#929292" stroke-width="3.6" stroke-linecap="round" stroke-linejoin="round"/>
<polyline points="5.8,18 12,24.2 18.2,18" fill="none" stroke="#929292" stroke-width="3.6" stroke-linecap="round" stroke-linejoin="round"/>
</svg>
<div class="r" style="left:1886px;top:636px;width:466px;height:72px;background:#F1F2F4;border-radius:0 11px 11px 0;"></div>
<div class="r" style="left:1886px;top:636px;width:10px;height:72px;background:#6D6598;"></div>
<div class="t" style="left:1916.5px;top:660.08px;font-size:24px;line-height:24px;color:#000000;font-weight:400;white-space:nowrap;letter-spacing:0.3px;">ABC</div>
<svg class="r" style="left:2312px;top:658px;" width="24" height="28" viewBox="0 0 24 28">
<polyline points="5.8,6 12,12.2 18.2,6" fill="none" stroke="#929292" stroke-width="3.6" stroke-linecap="round" stroke-linejoin="round"/>
<polyline points="5.8,18 12,24.2 18.2,18" fill="none" stroke="#929292" stroke-width="3.6" stroke-linecap="round" stroke-linejoin="round"/>
</svg>
<div class="t" style="left:2407.5px;width:400px;text-align:center;top:660.08px;font-size:24px;line-height:24px;color:#000000;font-weight:400;">-</div>
<div class="r" style="left:2866px;top:636px;width:476px;height:72px;background:#F1F2F4;border-radius:0 11px 11px 0;"></div>
<div class="r" style="left:2866px;top:636px;width:10px;height:72px;background:#7DB46D;"></div>
<div class="t" style="left:2896.5px;top:660.08px;font-size:24px;line-height:24px;color:#000000;font-weight:400;white-space:nowrap;letter-spacing:0.3px;">ABC: Project Management Scre...</div>
<svg class="r" style="left:3302px;top:658px;" width="24" height="28" viewBox="0 0 24 28">
<polyline points="5.8,6 12,12.2 18.2,6" fill="none" stroke="#929292" stroke-width="3.6" stroke-linecap="round" stroke-linejoin="round"/>
<polyline points="5.8,18 12,24.2 18.2,18" fill="none" stroke="#929292" stroke-width="3.6" stroke-linecap="round" stroke-linejoin="round"/>
</svg>
<div class="r" style="left:552px;top:718px;width:2792px;height:86px;background:#FFFFFF;"></div>
<div class="r" style="left:552px;top:804px;width:2792px;height:2px;background:#D8D9DB;"></div>
<div class="r" style="left:576px;top:744px;width:28px;height:28px;border:2px solid #7A8486;border-radius:6px;background:#FFFFFF;"></div>
<svg class="r" style="left:634px;top:740px;" width="28" height="38" viewBox="0 0 28 38"><rect x="0" y="14" width="28" height="24" rx="4.5" fill="#36A46E" fill-opacity="0.18"/>
<path d="M8,18.5 L8,8 A6,6 0 0 1 20,8 L20,8.8" fill="none" stroke="#36A46E" stroke-opacity="0.18" stroke-width="4" stroke-linecap="round"/>
<circle cx="14" cy="26" r="4.1" fill="#FFFFFF"/></svg>
<div class="t" style="left:716.5px;top:748.08px;font-size:24px;line-height:24px;color:#000000;font-weight:400;letter-spacing:0.4px;">10002</div>
<div class="r" style="left:891px;top:740px;width:490px;height:40px;overflow:hidden;">
<div class="t" style="left:27.0px;top:8.08px;font-size:24px;line-height:24px;color:#000000;font-weight:400;white-space:nowrap;letter-spacing:0.5px;">ABC: Project Management Resolve Issue Screen</div>
</div>
<div class="r" style="left:1396px;top:724px;width:466px;height:72px;background:#F4F4F4;border-radius:0 11px 11px 0;"></div>
<div class="r" style="left:1396px;top:724px;width:10px;height:72px;background:#65734A;"></div>
<div class="t" style="left:1426.5px;top:748.08px;font-size:24px;line-height:24px;color:#000000;font-weight:400;white-space:nowrap;letter-spacing:0.3px;">Field Tab</div>
<svg class="r" style="left:1822px;top:746px;" width="24" height="28" viewBox="0 0 24 28">
<polyline points="5.8,6 12,12.2 18.2,6" fill="none" stroke="#929292" stroke-width="3.6" stroke-linecap="round" stroke-linejoin="round"/>
<polyline points="5.8,18 12,24.2 18.2,18" fill="none" stroke="#929292" stroke-width="3.6" stroke-linecap="round" stroke-linejoin="round"/>
</svg>
<div class="t" style="left:1918.0px;width:400px;text-align:center;top:748.08px;font-size:24px;line-height:24px;color:#000000;font-weight:400;">-</div>
<div class="t" style="left:2407.5px;width:400px;text-align:center;top:748.08px;font-size:24px;line-height:24px;color:#000000;font-weight:400;">-</div>
<div class="t" style="left:2897.5px;width:400px;text-align:center;top:748.08px;font-size:24px;line-height:24px;color:#000000;font-weight:400;">-</div>
<div class="r" style="left:552px;top:806px;width:2792px;height:86px;background:#FAFBFD;"></div>
<div class="r" style="left:552px;top:892px;width:2792px;height:2px;background:#D8D9DB;"></div>
<div class="r" style="left:576px;top:832px;width:28px;height:28px;border:2px solid #7A8486;border-radius:6px;background:#FFFFFF;"></div>
<svg class="r" style="left:635px;top:832px;" width="26" height="33" viewBox="0 0 26 33"><rect x="1" y="12" width="24" height="20" rx="4.2" fill="#F4AF3D"/>
<path d="M6.9,13 L6.9,8.1 A6.1,6.1 0 0 1 19.1,8.1 L19.1,13" fill="none" stroke="#F4AF3D" stroke-width="3.8"/>
<circle cx="13" cy="22.2" r="4.1" fill="#FFFFFF"/></svg>
<div class="t" style="left:716.5px;top:836.08px;font-size:24px;line-height:24px;color:#000000;font-weight:400;letter-spacing:0.4px;">10160</div>
<div class="r" style="left:891px;top:828px;width:490px;height:40px;overflow:hidden;">
<div class="t" style="left:27.0px;top:8.08px;font-size:24px;line-height:24px;color:#000000;font-weight:400;white-space:nowrap;letter-spacing:0.3px;">ABHMIA: Scrum Bug Screen</div>
</div>
<div class="r" style="left:1396px;top:812px;width:466px;height:72px;background:#F1F2F4;border-radius:0 11px 11px 0;"></div>
<div class="r" style="left:1396px;top:812px;width:10px;height:72px;background:#65734A;"></div>
<div class="t" style="left:1426.5px;top:836.08px;font-size:24px;line-height:24px;color:#000000;font-weight:400;white-space:nowrap;letter-spacing:0.3px;">Field Tab</div>
<svg class="r" style="left:1822px;top:834px;" width="24" height="28" viewBox="0 0 24 28">
<polyline points="5.8,6 12,12.2 18.2,6" fill="none" stroke="#929292" stroke-width="3.6" stroke-linecap="round" stroke-linejoin="round"/>
<polyline points="5.8,18 12,24.2 18.2,18" fill="none" stroke="#929292" stroke-width="3.6" stroke-linecap="round" stroke-linejoin="round"/>
</svg>
<div class="r" style="left:1886px;top:812px;width:466px;height:72px;background:#F1F2F4;border-radius:0 11px 11px 0;"></div>
<div class="r" style="left:1886px;top:812px;width:10px;height:72px;background:#6D6598;"></div>
<div class="t" style="left:1916.5px;top:836.08px;font-size:24px;line-height:24px;color:#000000;font-weight:400;white-space:nowrap;letter-spacing:0.3px;">abachmania</div>
<svg class="r" style="left:2312px;top:834px;" width="24" height="28" viewBox="0 0 24 28">
<polyline points="5.8,6 12,12.2 18.2,6" fill="none" stroke="#929292" stroke-width="3.6" stroke-linecap="round" stroke-linejoin="round"/>
<polyline points="5.8,18 12,24.2 18.2,18" fill="none" stroke="#929292" stroke-width="3.6" stroke-linecap="round" stroke-linejoin="round"/>
</svg>
<div class="t" style="left:2407.5px;width:400px;text-align:center;top:836.08px;font-size:24px;line-height:24px;color:#000000;font-weight:400;">-</div>
<div class="r" style="left:2866px;top:812px;width:466px;height:72px;background:#F1F2F4;border-radius:0 11px 11px 0;"></div>
<div class="r" style="left:2866px;top:812px;width:10px;height:72px;background:#7DB46D;"></div>
<div class="t" style="left:2896.5px;top:836.08px;font-size:24px;line-height:24px;color:#000000;font-weight:400;white-space:nowrap;letter-spacing:0.3px;">ABHMIA: Scrum Bug Screen Sc...</div>
<svg class="r" style="left:3292px;top:834px;" width="24" height="28" viewBox="0 0 24 28">
<polyline points="5.8,6 12,12.2 18.2,6" fill="none" stroke="#929292" stroke-width="3.6" stroke-linecap="round" stroke-linejoin="round"/>
<polyline points="5.8,18 12,24.2 18.2,18" fill="none" stroke="#929292" stroke-width="3.6" stroke-linecap="round" stroke-linejoin="round"/>
</svg>
<div class="r" style="left:552px;top:894px;width:2792px;height:86px;background:#FFFFFF;"></div>
<div class="r" style="left:552px;top:980px;width:2792px;height:2px;background:#D8D9DB;"></div>
<div class="r" style="left:576px;top:920px;width:28px;height:28px;border:2px solid #7A8486;border-radius:6px;background:#FFFFFF;"></div>
<svg class="r" style="left:635px;top:920px;" width="26" height="33" viewBox="0 0 26 33"><rect x="1" y="12" width="24" height="20" rx="4.2" fill="#F4AF3D"/>
<path d="M6.9,13 L6.9,8.1 A6.1,6.1 0 0 1 19.1,8.1 L19.1,13" fill="none" stroke="#F4AF3D" stroke-width="3.8"/>
<circle cx="13" cy="22.2" r="4.1" fill="#FFFFFF"/></svg>
<div class="t" style="left:716.5px;top:924.08px;font-size:24px;line-height:24px;color:#000000;font-weight:400;letter-spacing:0.4px;">10159</div>
<div class="r" style="left:891px;top:916px;width:490px;height:40px;overflow:hidden;">
<div class="t" style="left:27.0px;top:8.08px;font-size:24px;line-height:24px;color:#000000;font-weight:400;white-space:nowrap;letter-spacing:0.3px;">ABHMIA: Scrum Default Issue Screen</div>
</div>
<div class="r" style="left:1396px;top:900px;width:466px;height:72px;background:#F4F4F4;border-radius:0 11px 11px 0;"></div>
<div class="r" style="left:1396px;top:900px;width:10px;height:72px;background:#65734A;"></div>
<div class="t" style="left:1426.5px;top:924.08px;font-size:24px;line-height:24px;color:#000000;font-weight:400;white-space:nowrap;letter-spacing:0.3px;">Field Tab</div>
<svg class="r" style="left:1822px;top:922px;" width="24" height="28" viewBox="0 0 24 28">
<polyline points="5.8,6 12,12.2 18.2,6" fill="none" stroke="#929292" stroke-width="3.6" stroke-linecap="round" stroke-linejoin="round"/>
<polyline points="5.8,18 12,24.2 18.2,18" fill="none" stroke="#929292" stroke-width="3.6" stroke-linecap="round" stroke-linejoin="round"/>
</svg>
<div class="r" style="left:1886px;top:900px;width:466px;height:72px;background:#F4F4F4;border-radius:0 11px 11px 0;"></div>
<div class="r" style="left:1886px;top:900px;width:10px;height:72px;background:#6D6598;"></div>
<div class="t" style="left:1916.5px;top:924.08px;font-size:24px;line-height:24px;color:#000000;font-weight:400;white-space:nowrap;letter-spacing:0.3px;">abachmania</div>
<svg class="r" style="left:2312px;top:922px;" width="24" height="28" viewBox="0 0 24 28">
<polyline points="5.8,6 12,12.2 18.2,6" fill="none" stroke="#929292" stroke-width="3.6" stroke-linecap="round" stroke-linejoin="round"/>
<polyline points="5.8,18 12,24.2 18.2,18" fill="none" stroke="#929292" stroke-width="3.6" stroke-linecap="round" stroke-linejoin="round"/>
</svg>
<div class="t" style="left:2407.5px;width:400px;text-align:center;top:924.08px;font-size:24px;line-height:24px;color:#000000;font-weight:400;">-</div>
<div class="r" style="left:2866px;top:900px;width:476px;height:72px;background:#F4F4F4;border-radius:0 11px 11px 0;"></div>
<div class="r" style="left:2866px;top:900px;width:10px;height:72px;background:#7DB46D;"></div>
<div class="t" style="left:2896.5px;top:924.08px;font-size:24px;line-height:24px;color:#000000;font-weight:400;white-space:nowrap;letter-spacing:0.3px;">ABHMIA: Scrum Default Screen ...</div>
<svg class="r" style="left:3302px;top:922px;" width="24" height="28" viewBox="0 0 24 28">
<polyline points="5.8,6 12,12.2 18.2,6" fill="none" stroke="#929292" stroke-width="3.6" stroke-linecap="round" stroke-linejoin="round"/>
<polyline points="5.8,18 12,24.2 18.2,18" fill="none" stroke="#929292" stroke-width="3.6" stroke-linecap="round" stroke-linejoin="round"/>
</svg>
<div class="r" style="left:552px;top:982px;width:2792px;height:86px;background:#FAFBFD;"></div>
<div class="r" style="left:552px;top:1068px;width:2792px;height:2px;background:#D8D9DB;"></div>
<div class="r" style="left:576px;top:1008px;width:28px;height:28px;border:2px solid #7A8486;border-radius:6px;background:#FFFFFF;"></div>
<svg class="r" style="left:635px;top:1008px;" width="26" height="33" viewBox="0 0 26 33"><rect x="1" y="12" width="24" height="20" rx="4.2" fill="#F4AF3D"/>
<path d="M6.9,13 L6.9,8.1 A6.1,6.1 0 0 1 19.1,8.1 L19.1,13" fill="none" stroke="#F4AF3D" stroke-width="3.8"/>
<circle cx="13" cy="22.2" r="4.1" fill="#FFFFFF"/></svg>
<div class="t" style="left:716.5px;top:1012.08px;font-size:24px;line-height:24px;color:#000000;font-weight:400;letter-spacing:0.4px;">10142</div>
<div class="r" style="left:891px;top:1004px;width:490px;height:40px;overflow:hidden;">
<div class="t" style="left:27.0px;top:8.08px;font-size:24px;line-height:24px;color:#000000;font-weight:400;white-space:nowrap;letter-spacing:0.3px;">ACDIR: Scrum Bug Screen</div>
</div>
<div class="r" style="left:1396px;top:988px;width:466px;height:72px;background:#F1F2F4;border-radius:0 11px 11px 0;"></div>
<div class="r" style="left:1396px;top:988px;width:10px;height:72px;background:#65734A;"></div>
<div class="t" style="left:1426.5px;top:1012.08px;font-size:24px;line-height:24px;color:#000000;font-weight:400;white-space:nowrap;letter-spacing:0.3px;">Field Tab</div>
<svg class="r" style="left:1822px;top:1010px;" width="24" height="28" viewBox="0 0 24 28">
<polyline points="5.8,6 12,12.2 18.2,6" fill="none" stroke="#929292" stroke-width="3.6" stroke-linecap="round" stroke-linejoin="round"/>
<polyline points="5.8,18 12,24.2 18.2,18" fill="none" stroke="#929292" stroke-width="3.6" stroke-linecap="round" stroke-linejoin="round"/>
</svg>
<div class="r" style="left:1886px;top:988px;width:466px;height:72px;background:#F1F2F4;border-radius:0 11px 11px 0;"></div>
<div class="r" style="left:1886px;top:988px;width:10px;height:72px;background:#6D6598;"></div>
<div class="t" style="left:1916.5px;top:1012.08px;font-size:24px;line-height:24px;color:#000000;font-weight:400;white-space:nowrap;letter-spacing:0.3px;">aconditor</div>
<svg class="r" style="left:2312px;top:1010px;" width="24" height="28" viewBox="0 0 24 28">
<polyline points="5.8,6 12,12.2 18.2,6" fill="none" stroke="#929292" stroke-width="3.6" stroke-linecap="round" stroke-linejoin="round"/>
<polyline points="5.8,18 12,24.2 18.2,18" fill="none" stroke="#929292" stroke-width="3.6" stroke-linecap="round" stroke-linejoin="round"/>
</svg>
<div class="t" style="left:2407.5px;width:400px;text-align:center;top:1012.08px;font-size:24px;line-height:24px;color:#000000;font-weight:400;">-</div>
<div class="r" style="left:2866px;top:988px;width:466px;height:72px;background:#F1F2F4;border-radius:0 11px 11px 0;"></div>
<div class="r" style="left:2866px;top:988px;width:10px;height:72px;background:#7DB46D;"></div>
<div class="t" style="left:2896.5px;top:1012.08px;font-size:24px;line-height:24px;color:#000000;font-weight:400;white-space:nowrap;letter-spacing:0.3px;">ACDIR: Scrum Bug Screen Sch...</div>
<svg class="r" style="left:3292px;top:1010px;" width="24" height="28" viewBox="0 0 24 28">
<polyline points="5.8,6 12,12.2 18.2,6" fill="none" stroke="#929292" stroke-width="3.6" stroke-linecap="round" stroke-linejoin="round"/>
<polyline points="5.8,18 12,24.2 18.2,18" fill="none" stroke="#929292" stroke-width="3.6" stroke-linecap="round" stroke-linejoin="round"/>
</svg>
<div class="r" style="left:552px;top:1070px;width:2792px;height:86px;background:#FFFFFF;"></div>
<div class="r" style="left:552px;top:1156px;width:2792px;height:2px;background:#D8D9DB;"></div>
<div class="r" style="left:576px;top:1096px;width:28px;height:28px;border:2px solid #7A8486;border-radius:6px;background:#FFFFFF;"></div>
<svg class="r" style="left:635px;top:1096px;" width="26" height="33" viewBox="0 0 26 33"><rect x="1" y="12" width="24" height="20" rx="4.2" fill="#F4AF3D"/>
<path d="M6.9,13 L6.9,8.1 A6.1,6.1 0 0 1 19.1,8.1 L19.1,13" fill="none" stroke="#F4AF3D" stroke-width="3.8"/>
<circle cx="13" cy="22.2" r="4.1" fill="#FFFFFF"/></svg>
<div class="t" style="left:716.5px;top:1100.08px;font-size:24px;line-height:24px;color:#000000;font-weight:400;letter-spacing:0.4px;">10141</div>
<div class="r" style="left:891px;top:1092px;width:490px;height:40px;overflow:hidden;">
<div class="t" style="left:27.0px;top:8.08px;font-size:24px;line-height:24px;color:#000000;font-weight:400;white-space:nowrap;letter-spacing:0.3px;">ACDIR: Scrum Default Issue Screen</div>
</div>
<div class="r" style="left:1396px;top:1076px;width:466px;height:72px;background:#F4F4F4;border-radius:0 11px 11px 0;"></div>
<div class="r" style="left:1396px;top:1076px;width:10px;height:72px;background:#65734A;"></div>
<div class="t" style="left:1426.5px;top:1100.08px;font-size:24px;line-height:24px;color:#000000;font-weight:400;white-space:nowrap;letter-spacing:0.3px;">Field Tab</div>
<svg class="r" style="left:1822px;top:1098px;" width="24" height="28" viewBox="0 0 24 28">
<polyline points="5.8,6 12,12.2 18.2,6" fill="none" stroke="#929292" stroke-width="3.6" stroke-linecap="round" stroke-linejoin="round"/>
<polyline points="5.8,18 12,24.2 18.2,18" fill="none" stroke="#929292" stroke-width="3.6" stroke-linecap="round" stroke-linejoin="round"/>
</svg>
<div class="r" style="left:1886px;top:1076px;width:466px;height:72px;background:#F4F4F4;border-radius:0 11px 11px 0;"></div>
<div class="r" style="left:1886px;top:1076px;width:10px;height:72px;background:#6D6598;"></div>
<div class="t" style="left:1916.5px;top:1100.08px;font-size:24px;line-height:24px;color:#000000;font-weight:400;white-space:nowrap;letter-spacing:0.3px;">aconditor</div>
<svg class="r" style="left:2312px;top:1098px;" width="24" height="28" viewBox="0 0 24 28">
<polyline points="5.8,6 12,12.2 18.2,6" fill="none" stroke="#929292" stroke-width="3.6" stroke-linecap="round" stroke-linejoin="round"/>
<polyline points="5.8,18 12,24.2 18.2,18" fill="none" stroke="#929292" stroke-width="3.6" stroke-linecap="round" stroke-linejoin="round"/>
</svg>
<div class="t" style="left:2407.5px;width:400px;text-align:center;top:1100.08px;font-size:24px;line-height:24px;color:#000000;font-weight:400;">-</div>
<div class="r" style="left:2866px;top:1076px;width:476px;height:72px;background:#F4F4F4;border-radius:0 11px 11px 0;"></div>
<div class="r" style="left:2866px;top:1076px;width:10px;height:72px;background:#7DB46D;"></div>
<div class="t" style="left:2896.5px;top:1100.08px;font-size:24px;line-height:24px;color:#000000;font-weight:400;white-space:nowrap;letter-spacing:0.3px;">ACDIR: Scrum Default Screen S...</div>
<svg class="r" style="left:3302px;top:1098px;" width="24" height="28" viewBox="0 0 24 28">
<polyline points="5.8,6 12,12.2 18.2,6" fill="none" stroke="#929292" stroke-width="3.6" stroke-linecap="round" stroke-linejoin="round"/>
<polyline points="5.8,18 12,24.2 18.2,18" fill="none" stroke="#929292" stroke-width="3.6" stroke-linecap="round" stroke-linejoin="round"/>
</svg>
<div class="r" style="left:552px;top:1158px;width:2792px;height:86px;background:#FAFBFD;"></div>
<div class="r" style="left:552px;top:1244px;width:2792px;height:2px;background:#D8D9DB;"></div>
<div class="r" style="left:576px;top:1184px;width:28px;height:28px;border:2px solid #7A8486;border-radius:6px;background:#FFFFFF;"></div>
<svg class="r" style="left:635px;top:1184px;" width="26" height="33" viewBox="0 0 26 33"><rect x="1" y="12" width="24" height="20" rx="4.2" fill="#F4AF3D"/>
<path d="M6.9,13 L6.9,8.1 A6.1,6.1 0 0 1 19.1,8.1 L19.1,13" fill="none" stroke="#F4AF3D" stroke-width="3.8"/>
<circle cx="13" cy="22.2" r="4.1" fill="#FFFFFF"/></svg>
<div class="t" style="left:716.5px;top:1188.08px;font-size:24px;line-height:24px;color:#000000;font-weight:400;letter-spacing:0.4px;">10042</div>
<div class="r" style="left:891px;top:1180px;width:490px;height:40px;overflow:hidden;">
<div class="t" style="left:27.0px;top:8.08px;font-size:24px;line-height:24px;color:#000000;font-weight:400;white-space:nowrap;letter-spacing:0.3px;">ACRNMA: Scrum Bug Screen</div>
</div>
<div class="r" style="left:1396px;top:1164px;width:466px;height:72px;background:#F1F2F4;border-radius:0 11px 11px 0;"></div>
<div class="r" style="left:1396px;top:1164px;width:10px;height:72px;background:#65734A;"></div>
<div class="t" style="left:1426.5px;top:1188.08px;font-size:24px;line-height:24px;color:#000000;font-weight:400;white-space:nowrap;letter-spacing:0.3px;">Field Tab</div>
<svg class="r" style="left:1822px;top:1186px;" width="24" height="28" viewBox="0 0 24 28">
<polyline points="5.8,6 12,12.2 18.2,6" fill="none" stroke="#929292" stroke-width="3.6" stroke-linecap="round" stroke-linejoin="round"/>
<polyline points="5.8,18 12,24.2 18.2,18" fill="none" stroke="#929292" stroke-width="3.6" stroke-linecap="round" stroke-linejoin="round"/>
</svg>
<div class="r" style="left:1886px;top:1164px;width:466px;height:72px;background:#F1F2F4;border-radius:0 11px 11px 0;"></div>
<div class="r" style="left:1886px;top:1164px;width:10px;height:72px;background:#6D6598;"></div>
<div class="t" style="left:1916.5px;top:1188.08px;font-size:24px;line-height:24px;color:#000000;font-weight:400;white-space:nowrap;letter-spacing:0.3px;">acavernaruma</div>
<svg class="r" style="left:2312px;top:1186px;" width="24" height="28" viewBox="0 0 24 28">
<polyline points="5.8,6 12,12.2 18.2,6" fill="none" stroke="#929292" stroke-width="3.6" stroke-linecap="round" stroke-linejoin="round"/>
<polyline points="5.8,18 12,24.2 18.2,18" fill="none" stroke="#929292" stroke-width="3.6" stroke-linecap="round" stroke-linejoin="round"/>
</svg>
<div class="t" style="left:2407.5px;width:400px;text-align:center;top:1188.08px;font-size:24px;line-height:24px;color:#000000;font-weight:400;">-</div>
<div class="r" style="left:2866px;top:1164px;width:473px;height:72px;background:#F1F2F4;border-radius:0 11px 11px 0;"></div>
<div class="r" style="left:2866px;top:1164px;width:10px;height:72px;background:#7DB46D;"></div>
<div class="t" style="left:2896.5px;top:1188.08px;font-size:24px;line-height:24px;color:#000000;font-weight:400;white-space:nowrap;letter-spacing:0.3px;">ACRNMA: Scrum Bug Screen Sc...</div>
<svg class="r" style="left:3299px;top:1186px;" width="24" height="28" viewBox="0 0 24 28">
<polyline points="5.8,6 12,12.2 18.2,6" fill="none" stroke="#929292" stroke-width="3.6" stroke-linecap="round" stroke-linejoin="round"/>
<polyline points="5.8,18 12,24.2 18.2,18" fill="none" stroke="#929292" stroke-width="3.6" stroke-linecap="round" stroke-linejoin="round"/>
</svg>
<div class="r" style="left:552px;top:1246px;width:2792px;height:86px;background:#FFFFFF;"></div>
<div class="r" style="left:552px;top:1332px;width:2792px;height:2px;background:#D8D9DB;"></div>
<div class="r" style="left:576px;top:1272px;width:28px;height:28px;border:2px solid #7A8486;border-radius:6px;background:#FFFFFF;"></div>
<svg class="r" style="left:635px;top:1272px;" width="26" height="33" viewBox="0 0 26 33"><rect x="1" y="12" width="24" height="20" rx="4.2" fill="#F4AF3D"/>
<path d="M6.9,13 L6.9,8.1 A6.1,6.1 0 0 1 19.1,8.1 L19.1,13" fill="none" stroke="#F4AF3D" stroke-width="3.8"/>
<circle cx="13" cy="22.2" r="4.1" fill="#FFFFFF"/></svg>
<div class="t" style="left:716.5px;top:1276.08px;font-size:24px;line-height:24px;color:#000000;font-weight:400;letter-spacing:0.4px;">10041</div>
<div class="r" style="left:891px;top:1268px;width:490px;height:40px;overflow:hidden;">
<div class="t" style="left:27.0px;top:8.08px;font-size:24px;line-height:24px;color:#000000;font-weight:400;white-space:nowrap;letter-spacing:0.3px;">ACRNMA: Scrum Default Issue Screen</div>
</div>
<div class="r" style="left:1396px;top:1252px;width:466px;height:72px;background:#F4F4F4;border-radius:0 11px 11px 0;"></div>
<div class="r" style="left:1396px;top:1252px;width:10px;height:72px;background:#65734A;"></div>
<div class="t" style="left:1426.5px;top:1276.08px;font-size:24px;line-height:24px;color:#000000;font-weight:400;white-space:nowrap;letter-spacing:0.3px;">Field Tab</div>
<svg class="r" style="left:1822px;top:1274px;" width="24" height="28" viewBox="0 0 24 28">
<polyline points="5.8,6 12,12.2 18.2,6" fill="none" stroke="#929292" stroke-width="3.6" stroke-linecap="round" stroke-linejoin="round"/>
<polyline points="5.8,18 12,24.2 18.2,18" fill="none" stroke="#929292" stroke-width="3.6" stroke-linecap="round" stroke-linejoin="round"/>
</svg>
<div class="r" style="left:1886px;top:1252px;width:466px;height:72px;background:#F4F4F4;border-radius:0 11px 11px 0;"></div>
<div class="r" style="left:1886px;top:1252px;width:10px;height:72px;background:#6D6598;"></div>
<div class="t" style="left:1916.5px;top:1276.08px;font-size:24px;line-height:24px;color:#000000;font-weight:400;white-space:nowrap;letter-spacing:0.3px;">acavernaruma</div>
<svg class="r" style="left:2312px;top:1274px;" width="24" height="28" viewBox="0 0 24 28">
<polyline points="5.8,6 12,12.2 18.2,6" fill="none" stroke="#929292" stroke-width="3.6" stroke-linecap="round" stroke-linejoin="round"/>
<polyline points="5.8,18 12,24.2 18.2,18" fill="none" stroke="#929292" stroke-width="3.6" stroke-linecap="round" stroke-linejoin="round"/>
</svg>
<div class="t" style="left:2407.5px;width:400px;text-align:center;top:1276.08px;font-size:24px;line-height:24px;color:#000000;font-weight:400;">-</div>
<div class="r" style="left:2866px;top:1252px;width:476px;height:72px;background:#F4F4F4;border-radius:0 11px 11px 0;"></div>
<div class="r" style="left:2866px;top:1252px;width:10px;height:72px;background:#7DB46D;"></div>
<div class="t" style="left:2896.5px;top:1276.08px;font-size:24px;line-height:24px;color:#000000;font-weight:400;white-space:nowrap;letter-spacing:0.3px;">ACRNMA: Scrum Default Screen...</div>
<svg class="r" style="left:3302px;top:1274px;" width="24" height="28" viewBox="0 0 24 28">
<polyline points="5.8,6 12,12.2 18.2,6" fill="none" stroke="#929292" stroke-width="3.6" stroke-linecap="round" stroke-linejoin="round"/>
<polyline points="5.8,18 12,24.2 18.2,18" fill="none" stroke="#929292" stroke-width="3.6" stroke-linecap="round" stroke-linejoin="round"/>
</svg>
<div class="r" style="left:552px;top:1334px;width:2792px;height:86px;background:#FAFBFD;"></div>
<div class="r" style="left:552px;top:1420px;width:2792px;height:2px;background:#D8D9DB;"></div>
<div class="r" style="left:576px;top:1360px;width:28px;height:28px;border:2px solid #7A8486;border-radius:6px;background:#FFFFFF;"></div>
<svg class="r" style="left:635px;top:1360px;" width="26" height="33" viewBox="0 0 26 33"><rect x="1" y="12" width="24" height="20" rx="4.2" fill="#F4AF3D"/>
<path d="M6.9,13 L6.9,8.1 A6.1,6.1 0 0 1 19.1,8.1 L19.1,13" fill="none" stroke="#F4AF3D" stroke-width="3.8"/>
<circle cx="13" cy="22.2" r="4.1" fill="#FFFFFF"/></svg>
<div class="t" style="left:716.5px;top:1364.08px;font-size:24px;line-height:24px;color:#000000;font-weight:400;letter-spacing:0.4px;">10070</div>
<div class="r" style="left:891px;top:1356px;width:490px;height:40px;overflow:hidden;">
<div class="t" style="left:27.0px;top:8.08px;font-size:24px;line-height:24px;color:#000000;font-weight:400;white-space:nowrap;letter-spacing:0.3px;">ACUNIA: Scrum Bug Screen</div>
</div>
<div class="r" style="left:1396px;top:1340px;width:466px;height:72px;background:#F1F2F4;border-radius:0 11px 11px 0;"></div>
<div class="r" style="left:1396px;top:1340px;width:10px;height:72px;background:#65734A;"></div>
<div class="t" style="left:1426.5px;top:1364.08px;font-size:24px;line-height:24px;color:#000000;font-weight:400;white-space:nowrap;letter-spacing:0.3px;">Field Tab</div>
<svg class="r" style="left:1822px;top:1362px;" width="24" height="28" viewBox="0 0 24 28">
<polyline points="5.8,6 12,12.2 18.2,6" fill="none" stroke="#929292" stroke-width="3.6" stroke-linecap="round" stroke-linejoin="round"/>
<polyline points="5.8,18 12,24.2 18.2,18" fill="none" stroke="#929292" stroke-width="3.6" stroke-linecap="round" stroke-linejoin="round"/>
</svg>
<div class="r" style="left:1886px;top:1340px;width:466px;height:72px;background:#F1F2F4;border-radius:0 11px 11px 0;"></div>
<div class="r" style="left:1886px;top:1340px;width:10px;height:72px;background:#6D6598;"></div>
<div class="t" style="left:1916.5px;top:1364.08px;font-size:24px;line-height:24px;color:#000000;font-weight:400;white-space:nowrap;letter-spacing:0.3px;">achunyia</div>
<svg class="r" style="left:2312px;top:1362px;" width="24" height="28" viewBox="0 0 24 28">
<polyline points="5.8,6 12,12.2 18.2,6" fill="none" stroke="#929292" stroke-width="3.6" stroke-linecap="round" stroke-linejoin="round"/>
<polyline points="5.8,18 12,24.2 18.2,18" fill="none" stroke="#929292" stroke-width="3.6" stroke-linecap="round" stroke-linejoin="round"/>
</svg>
<div class="t" style="left:2407.5px;width:400px;text-align:center;top:1364.08px;font-size:24px;line-height:24px;color:#000000;font-weight:400;">-</div>
<div class="r" style="left:2866px;top:1340px;width:466px;height:72px;background:#F1F2F4;border-radius:0 11px 11px 0;"></div>
<div class="r" style="left:2866px;top:1340px;width:10px;height:72px;background:#7DB46D;"></div>
<div class="t" style="left:2896.5px;top:1364.08px;font-size:24px;line-height:24px;color:#000000;font-weight:400;white-space:nowrap;letter-spacing:0.3px;">ACUNIA: Scrum Bug Screen Sc...</div>
<svg class="r" style="left:3292px;top:1362px;" width="24" height="28" viewBox="0 0 24 28">
<polyline points="5.8,6 12,12.2 18.2,6" fill="none" stroke="#929292" stroke-width="3.6" stroke-linecap="round" stroke-linejoin="round"/>
<polyline points="5.8,18 12,24.2 18.2,18" fill="none" stroke="#929292" stroke-width="3.6" stroke-linecap="round" stroke-linejoin="round"/>
</svg>
<div class="r" style="left:552px;top:1422px;width:2792px;height:86px;background:#FFFFFF;"></div>
<div class="r" style="left:552px;top:1508px;width:2792px;height:2px;background:#D8D9DB;"></div>
<div class="r" style="left:576px;top:1448px;width:28px;height:28px;border:2px solid #7A8486;border-radius:6px;background:#FFFFFF;"></div>
<svg class="r" style="left:635px;top:1448px;" width="26" height="33" viewBox="0 0 26 33"><rect x="1" y="12" width="24" height="20" rx="4.2" fill="#F4AF3D"/>
<path d="M6.9,13 L6.9,8.1 A6.1,6.1 0 0 1 19.1,8.1 L19.1,13" fill="none" stroke="#F4AF3D" stroke-width="3.8"/>
<circle cx="13" cy="22.2" r="4.1" fill="#FFFFFF"/></svg>
<div class="t" style="left:716.5px;top:1452.08px;font-size:24px;line-height:24px;color:#000000;font-weight:400;letter-spacing:0.4px;">10069</div>
<div class="r" style="left:891px;top:1444px;width:490px;height:40px;overflow:hidden;">
<div class="t" style="left:27.0px;top:8.08px;font-size:24px;line-height:24px;color:#000000;font-weight:400;white-space:nowrap;letter-spacing:0.3px;">ACUNIA: Scrum Default Issue Screen</div>
</div>
<div class="r" style="left:1396px;top:1428px;width:466px;height:72px;background:#F4F4F4;border-radius:0 11px 11px 0;"></div>
<div class="r" style="left:1396px;top:1428px;width:10px;height:72px;background:#65734A;"></div>
<div class="t" style="left:1426.5px;top:1452.08px;font-size:24px;line-height:24px;color:#000000;font-weight:400;white-space:nowrap;letter-spacing:0.3px;">Field Tab</div>
<svg class="r" style="left:1822px;top:1450px;" width="24" height="28" viewBox="0 0 24 28">
<polyline points="5.8,6 12,12.2 18.2,6" fill="none" stroke="#929292" stroke-width="3.6" stroke-linecap="round" stroke-linejoin="round"/>
<polyline points="5.8,18 12,24.2 18.2,18" fill="none" stroke="#929292" stroke-width="3.6" stroke-linecap="round" stroke-linejoin="round"/>
</svg>
<div class="r" style="left:1886px;top:1428px;width:466px;height:72px;background:#F4F4F4;border-radius:0 11px 11px 0;"></div>
<div class="r" style="left:1886px;top:1428px;width:10px;height:72px;background:#6D6598;"></div>
<div class="t" style="left:1916.5px;top:1452.08px;font-size:24px;line-height:24px;color:#000000;font-weight:400;white-space:nowrap;letter-spacing:0.3px;">achunyia</div>
<svg class="r" style="left:2312px;top:1450px;" width="24" height="28" viewBox="0 0 24 28">
<polyline points="5.8,6 12,12.2 18.2,6" fill="none" stroke="#929292" stroke-width="3.6" stroke-linecap="round" stroke-linejoin="round"/>
<polyline points="5.8,18 12,24.2 18.2,18" fill="none" stroke="#929292" stroke-width="3.6" stroke-linecap="round" stroke-linejoin="round"/>
</svg>
<div class="t" style="left:2407.5px;width:400px;text-align:center;top:1452.08px;font-size:24px;line-height:24px;color:#000000;font-weight:400;">-</div>
<div class="r" style="left:2866px;top:1428px;width:476px;height:72px;background:#F4F4F4;border-radius:0 11px 11px 0;"></div>
<div class="r" style="left:2866px;top:1428px;width:10px;height:72px;background:#7DB46D;"></div>
<div class="t" style="left:2896.5px;top:1452.08px;font-size:24px;line-height:24px;color:#000000;font-weight:400;white-space:nowrap;letter-spacing:0.3px;">ACUNIA: Scrum Default Screen ...</div>
<svg class="r" style="left:3302px;top:1450px;" width="24" height="28" viewBox="0 0 24 28">
<polyline points="5.8,6 12,12.2 18.2,6" fill="none" stroke="#929292" stroke-width="3.6" stroke-linecap="round" stroke-linejoin="round"/>
<polyline points="5.8,18 12,24.2 18.2,18" fill="none" stroke="#929292" stroke-width="3.6" stroke-linecap="round" stroke-linejoin="round"/>
</svg>
<div class="r" style="left:552px;top:1510px;width:2792px;height:86px;background:#FAFBFD;"></div>
<div class="r" style="left:552px;top:1596px;width:2792px;height:2px;background:#D8D9DB;"></div>
<div class="r" style="left:576px;top:1536px;width:28px;height:28px;border:2px solid #7A8486;border-radius:6px;background:#FFFFFF;"></div>
<svg class="r" style="left:635px;top:1536px;" width="26" height="33" viewBox="0 0 26 33"><rect x="1" y="12" width="24" height="20" rx="4.2" fill="#F4AF3D"/>
<path d="M6.9,13 L6.9,8.1 A6.1,6.1 0 0 1 19.1,8.1 L19.1,13" fill="none" stroke="#F4AF3D" stroke-width="3.8"/>
<circle cx="13" cy="22.2" r="4.1" fill="#FFFFFF"/></svg>
<div class="t" style="left:716.5px;top:1540.08px;font-size:24px;line-height:24px;color:#000000;font-weight:400;letter-spacing:0.4px;">10104</div>
<div class="r" style="left:891px;top:1532px;width:490px;height:40px;overflow:hidden;">
<div class="t" style="left:27.0px;top:8.08px;font-size:24px;line-height:24px;color:#000000;font-weight:400;white-space:nowrap;letter-spacing:0.3px;">ADSASA: Scrum Bug Screen</div>
</div>
<div class="r" style="left:1396px;top:1516px;width:466px;height:72px;background:#F1F2F4;border-radius:0 11px 11px 0;"></div>
<div class="r" style="left:1396px;top:1516px;width:10px;height:72px;background:#65734A;"></div>
<div class="t" style="left:1426.5px;top:1540.08px;font-size:24px;line-height:24px;color:#000000;font-weight:400;white-space:nowrap;letter-spacing:0.3px;">Field Tab</div>
<svg class="r" style="left:1822px;top:1538px;" width="24" height="28" viewBox="0 0 24 28">
<polyline points="5.8,6 12,12.2 18.2,6" fill="none" stroke="#929292" stroke-width="3.6" stroke-linecap="round" stroke-linejoin="round"/>
<polyline points="5.8,18 12,24.2 18.2,18" fill="none" stroke="#929292" stroke-width="3.6" stroke-linecap="round" stroke-linejoin="round"/>
</svg>
<div class="r" style="left:1886px;top:1516px;width:466px;height:72px;background:#F1F2F4;border-radius:0 11px 11px 0;"></div>
<div class="r" style="left:1886px;top:1516px;width:10px;height:72px;background:#6D6598;"></div>
<div class="t" style="left:1916.5px;top:1540.08px;font-size:24px;line-height:24px;color:#000000;font-weight:400;white-space:nowrap;letter-spacing:0.3px;">adorsalisa</div>
<svg class="r" style="left:2312px;top:1538px;" width="24" height="28" viewBox="0 0 24 28">
<polyline points="5.8,6 12,12.2 18.2,6" fill="none" stroke="#929292" stroke-width="3.6" stroke-linecap="round" stroke-linejoin="round"/>
<polyline points="5.8,18 12,24.2 18.2,18" fill="none" stroke="#929292" stroke-width="3.6" stroke-linecap="round" stroke-linejoin="round"/>
</svg>
<div class="t" style="left:2407.5px;width:400px;text-align:center;top:1540.08px;font-size:24px;line-height:24px;color:#000000;font-weight:400;">-</div>
<div class="r" style="left:2866px;top:1516px;width:467px;height:72px;background:#F1F2F4;border-radius:0 11px 11px 0;"></div>
<div class="r" style="left:2866px;top:1516px;width:10px;height:72px;background:#7DB46D;"></div>
<div class="t" style="left:2896.5px;top:1540.08px;font-size:24px;line-height:24px;color:#000000;font-weight:400;white-space:nowrap;letter-spacing:0.3px;">ADSASA: Scrum Bug Screen Sc...</div>
<svg class="r" style="left:3293px;top:1538px;" width="24" height="28" viewBox="0 0 24 28">
<polyline points="5.8,6 12,12.2 18.2,6" fill="none" stroke="#929292" stroke-width="3.6" stroke-linecap="round" stroke-linejoin="round"/>
<polyline points="5.8,18 12,24.2 18.2,18" fill="none" stroke="#929292" stroke-width="3.6" stroke-linecap="round" stroke-linejoin="round"/>
</svg>
<div class="r" style="left:552px;top:1598px;width:2792px;height:86px;background:#FFFFFF;"></div>
<div class="r" style="left:552px;top:1684px;width:2792px;height:2px;background:#D8D9DB;"></div>
<div class="r" style="left:576px;top:1624px;width:28px;height:28px;border:2px solid #7A8486;border-radius:6px;background:#FFFFFF;"></div>
<svg class="r" style="left:635px;top:1624px;" width="26" height="33" viewBox="0 0 26 33"><rect x="1" y="12" width="24" height="20" rx="4.2" fill="#F4AF3D"/>
<path d="M6.9,13 L6.9,8.1 A6.1,6.1 0 0 1 19.1,8.1 L19.1,13" fill="none" stroke="#F4AF3D" stroke-width="3.8"/>
<circle cx="13" cy="22.2" r="4.1" fill="#FFFFFF"/></svg>
<div class="t" style="left:716.5px;top:1628.08px;font-size:24px;line-height:24px;color:#000000;font-weight:400;letter-spacing:0.4px;">10103</div>
<div class="r" style="left:891px;top:1620px;width:490px;height:40px;overflow:hidden;">
<div class="t" style="left:27.0px;top:8.08px;font-size:24px;line-height:24px;color:#000000;font-weight:400;white-space:nowrap;letter-spacing:0.3px;">ADSASA: Scrum Default Issue Screen</div>
</div>
<div class="r" style="left:1396px;top:1604px;width:466px;height:72px;background:#F4F4F4;border-radius:0 11px 11px 0;"></div>
<div class="r" style="left:1396px;top:1604px;width:10px;height:72px;background:#65734A;"></div>
<div class="t" style="left:1426.5px;top:1628.08px;font-size:24px;line-height:24px;color:#000000;font-weight:400;white-space:nowrap;letter-spacing:0.3px;">Field Tab</div>
<svg class="r" style="left:1822px;top:1626px;" width="24" height="28" viewBox="0 0 24 28">
<polyline points="5.8,6 12,12.2 18.2,6" fill="none" stroke="#929292" stroke-width="3.6" stroke-linecap="round" stroke-linejoin="round"/>
<polyline points="5.8,18 12,24.2 18.2,18" fill="none" stroke="#929292" stroke-width="3.6" stroke-linecap="round" stroke-linejoin="round"/>
</svg>
<div class="r" style="left:1886px;top:1604px;width:466px;height:72px;background:#F4F4F4;border-radius:0 11px 11px 0;"></div>
<div class="r" style="left:1886px;top:1604px;width:10px;height:72px;background:#6D6598;"></div>
<div class="t" style="left:1916.5px;top:1628.08px;font-size:24px;line-height:24px;color:#000000;font-weight:400;white-space:nowrap;letter-spacing:0.3px;">adorsalisa</div>
<svg class="r" style="left:2312px;top:1626px;" width="24" height="28" viewBox="0 0 24 28">
<polyline points="5.8,6 12,12.2 18.2,6" fill="none" stroke="#929292" stroke-width="3.6" stroke-linecap="round" stroke-linejoin="round"/>
<polyline points="5.8,18 12,24.2 18.2,18" fill="none" stroke="#929292" stroke-width="3.6" stroke-linecap="round" stroke-linejoin="round"/>
</svg>
<div class="t" style="left:2407.5px;width:400px;text-align:center;top:1628.08px;font-size:24px;line-height:24px;color:#000000;font-weight:400;">-</div>
<div class="r" style="left:2866px;top:1604px;width:476px;height:72px;background:#F4F4F4;border-radius:0 11px 11px 0;"></div>
<div class="r" style="left:2866px;top:1604px;width:10px;height:72px;background:#7DB46D;"></div>
<div class="t" style="left:2896.5px;top:1628.08px;font-size:24px;line-height:24px;color:#000000;font-weight:400;white-space:nowrap;letter-spacing:0.3px;">ADSASA: Scrum Default Screen ...</div>
<svg class="r" style="left:3302px;top:1626px;" width="24" height="28" viewBox="0 0 24 28">
<polyline points="5.8,6 12,12.2 18.2,6" fill="none" stroke="#929292" stroke-width="3.6" stroke-linecap="round" stroke-linejoin="round"/>
<polyline points="5.8,18 12,24.2 18.2,18" fill="none" stroke="#929292" stroke-width="3.6" stroke-linecap="round" stroke-linejoin="round"/>
</svg>
<div class="r" style="left:552px;top:1686px;width:2792px;height:86px;background:#FAFBFD;"></div>
<div class="r" style="left:552px;top:1772px;width:2792px;height:2px;background:#D8D9DB;"></div>
<div class="r" style="left:576px;top:1712px;width:28px;height:28px;border:2px solid #7A8486;border-radius:6px;background:#FFFFFF;"></div>
<svg class="r" style="left:635px;top:1712px;" width="26" height="33" viewBox="0 0 26 33"><rect x="1" y="12" width="24" height="20" rx="4.2" fill="#F4AF3D"/>
<path d="M6.9,13 L6.9,8.1 A6.1,6.1 0 0 1 19.1,8.1 L19.1,13" fill="none" stroke="#F4AF3D" stroke-width="3.8"/>
<circle cx="13" cy="22.2" r="4.1" fill="#FFFFFF"/></svg>
<div class="t" style="left:716.5px;top:1716.08px;font-size:24px;line-height:24px;color:#000000;font-weight:400;letter-spacing:0.4px;">10164</div>
<div class="r" style="left:891px;top:1708px;width:490px;height:40px;overflow:hidden;">
<div class="t" style="left:27.0px;top:8.08px;font-size:24px;line-height:24px;color:#000000;font-weight:400;white-space:nowrap;letter-spacing:0.3px;">AERZS: Scrum Bug Screen</div>
</div>
<div class="r" style="left:1396px;top:1692px;width:466px;height:72px;background:#F1F2F4;border-radius:0 11px 11px 0;"></div>
<div class="r" style="left:1396px;top:1692px;width:10px;height:72px;background:#65734A;"></div>
<div class="t" style="left:1426.5px;top:1716.08px;font-size:24px;line-height:24px;color:#000000;font-weight:400;white-space:nowrap;letter-spacing:0.3px;">Field Tab</div>
<svg class="r" style="left:1822px;top:1714px;" width="24" height="28" viewBox="0 0 24 28">
<polyline points="5.8,6 12,12.2 18.2,6" fill="none" stroke="#929292" stroke-width="3.6" stroke-linecap="round" stroke-linejoin="round"/>
<polyline points="5.8,18 12,24.2 18.2,18" fill="none" stroke="#929292" stroke-width="3.6" stroke-linecap="round" stroke-linejoin="round"/>
</svg>
<div class="r" style="left:1886px;top:1692px;width:466px;height:72px;background:#F1F2F4;border-radius:0 11px 11px 0;"></div>
<div class="r" style="left:1886px;top:1692px;width:10px;height:72px;background:#6D6598;"></div>
<div class="t" style="left:1916.5px;top:1716.08px;font-size:24px;line-height:24px;color:#000000;font-weight:400;white-space:nowrap;letter-spacing:0.3px;">aelburzensis</div>
<svg class="r" style="left:2312px;top:1714px;" width="24" height="28" viewBox="0 0 24 28">
<polyline points="5.8,6 12,12.2 18.2,6" fill="none" stroke="#929292" stroke-width="3.6" stroke-linecap="round" stroke-linejoin="round"/>
<polyline points="5.8,18 12,24.2 18.2,18" fill="none" stroke="#929292" stroke-width="3.6" stroke-linecap="round" stroke-linejoin="round"/>
</svg>
<div class="t" style="left:2407.5px;width:400px;text-align:center;top:1716.08px;font-size:24px;line-height:24px;color:#000000;font-weight:400;">-</div>
<div class="r" style="left:2866px;top:1692px;width:466px;height:72px;background:#F1F2F4;border-radius:0 11px 11px 0;"></div>
<div class="r" style="left:2866px;top:1692px;width:10px;height:72px;background:#7DB46D;"></div>
<div class="t" style="left:2896.5px;top:1716.08px;font-size:24px;line-height:24px;color:#000000;font-weight:400;white-space:nowrap;letter-spacing:0.3px;">AERZS: Scrum Bug Screen Sch...</div>
<svg class="r" style="left:3292px;top:1714px;" width="24" height="28" viewBox="0 0 24 28">
<polyline points="5.8,6 12,12.2 18.2,6" fill="none" stroke="#929292" stroke-width="3.6" stroke-linecap="round" stroke-linejoin="round"/>
<polyline points="5.8,18 12,24.2 18.2,18" fill="none" stroke="#929292" stroke-width="3.6" stroke-linecap="round" stroke-linejoin="round"/>
</svg>
<div class="r" style="left:552px;top:1774px;width:2792px;height:86px;background:#FFFFFF;"></div>
<div class="r" style="left:552px;top:1860px;width:2792px;height:2px;background:#D8D9DB;"></div>
<div class="r" style="left:576px;top:1800px;width:28px;height:28px;border:2px solid #7A8486;border-radius:6px;background:#FFFFFF;"></div>
<svg class="r" style="left:635px;top:1800px;" width="26" height="33" viewBox="0 0 26 33"><rect x="1" y="12" width="24" height="20" rx="4.2" fill="#F4AF3D"/>
<path d="M6.9,13 L6.9,8.1 A6.1,6.1 0 0 1 19.1,8.1 L19.1,13" fill="none" stroke="#F4AF3D" stroke-width="3.8"/>
<circle cx="13" cy="22.2" r="4.1" fill="#FFFFFF"/></svg>
<div class="t" style="left:716.5px;top:1804.08px;font-size:24px;line-height:24px;color:#000000;font-weight:400;letter-spacing:0.4px;">10163</div>
<div class="r" style="left:891px;top:1796px;width:490px;height:40px;overflow:hidden;">
<div class="t" style="left:27.0px;top:8.08px;font-size:24px;line-height:24px;color:#000000;font-weight:400;white-space:nowrap;letter-spacing:0.3px;">AERZS: Scrum Default Issue Screen</div>
</div>
<div class="r" style="left:1396px;top:1780px;width:466px;height:72px;background:#F4F4F4;border-radius:0 11px 11px 0;"></div>
<div class="r" style="left:1396px;top:1780px;width:10px;height:72px;background:#65734A;"></div>
<div class="t" style="left:1426.5px;top:1804.08px;font-size:24px;line-height:24px;color:#000000;font-weight:400;white-space:nowrap;letter-spacing:0.3px;">Field Tab</div>
<svg class="r" style="left:1822px;top:1802px;" width="24" height="28" viewBox="0 0 24 28">
<polyline points="5.8,6 12,12.2 18.2,6" fill="none" stroke="#929292" stroke-width="3.6" stroke-linecap="round" stroke-linejoin="round"/>
<polyline points="5.8,18 12,24.2 18.2,18" fill="none" stroke="#929292" stroke-width="3.6" stroke-linecap="round" stroke-linejoin="round"/>
</svg>
<div class="r" style="left:1886px;top:1780px;width:466px;height:72px;background:#F4F4F4;border-radius:0 11px 11px 0;"></div>
<div class="r" style="left:1886px;top:1780px;width:10px;height:72px;background:#6D6598;"></div>
<div class="t" style="left:1916.5px;top:1804.08px;font-size:24px;line-height:24px;color:#000000;font-weight:400;white-space:nowrap;letter-spacing:0.3px;">aelburzensis</div>
<svg class="r" style="left:2312px;top:1802px;" width="24" height="28" viewBox="0 0 24 28">
<polyline points="5.8,6 12,12.2 18.2,6" fill="none" stroke="#929292" stroke-width="3.6" stroke-linecap="round" stroke-linejoin="round"/>
<polyline points="5.8,18 12,24.2 18.2,18" fill="none" stroke="#929292" stroke-width="3.6" stroke-linecap="round" stroke-linejoin="round"/>
</svg>
<div class="t" style="left:2407.5px;width:400px;text-align:center;top:1804.08px;font-size:24px;line-height:24px;color:#000000;font-weight:400;">-</div>
<div class="r" style="left:2866px;top:1780px;width:476px;height:72px;background:#F4F4F4;border-radius:0 11px 11px 0;"></div>
<div class="r" style="left:2866px;top:1780px;width:10px;height:72px;background:#7DB46D;"></div>
<div class="t" style="left:2896.5px;top:1804.08px;font-size:24px;line-height:24px;color:#000000;font-weight:400;white-space:nowrap;letter-spacing:0.3px;">AERZS: Scrum Default Screen S...</div>
<svg class="r" style="left:3302px;top:1802px;" width="24" height="28" viewBox="0 0 24 28">
<polyline points="5.8,6 12,12.2 18.2,6" fill="none" stroke="#929292" stroke-width="3.6" stroke-linecap="round" stroke-linejoin="round"/>
<polyline points="5.8,18 12,24.2 18.2,18" fill="none" stroke="#929292" stroke-width="3.6" stroke-linecap="round" stroke-linejoin="round"/>
</svg>
<div class="r" style="left:552px;top:1862px;width:2792px;height:36px;background:#FAFBFD;"></div>
<div class="r" style="left:576px;top:1888px;width:28px;height:28px;border:2px solid #7A8486;border-radius:6px;background:#FFFFFF;"></div>
<svg class="r" style="left:635px;top:1888px;" width="26" height="33" viewBox="0 0 26 33"><rect x="1" y="12" width="24" height="20" rx="4.2" fill="#F4AF3D"/>
<path d="M6.9,13 L6.9,8.1 A6.1,6.1 0 0 1 19.1,8.1 L19.1,13" fill="none" stroke="#F4AF3D" stroke-width="3.8"/>
<circle cx="13" cy="22.2" r="4.1" fill="#FFFFFF"/></svg>
<div class="t" style="left:716.5px;top:1892.08px;font-size:24px;line-height:24px;color:#000000;font-weight:400;letter-spacing:0.4px;">10068</div>
<div class="r" style="left:891px;top:1884px;width:490px;height:40px;overflow:hidden;">
<div class="t" style="left:27.0px;top:8.08px;font-size:24px;line-height:24px;color:#000000;font-weight:400;white-space:nowrap;letter-spacing:0.3px;">ACUNI: Scrum Bug Screen</div>
</div>
<div class="r" style="left:1396px;top:1868px;width:466px;height:72px;background:#F1F2F4;border-radius:0 11px 11px 0;"></div>
<div class="r" style="left:1396px;top:1868px;width:10px;height:72px;background:#65734A;"></div>
<div class="t" style="left:1426.5px;top:1892.08px;font-size:24px;line-height:24px;color:#000000;font-weight:400;white-space:nowrap;letter-spacing:0.3px;">Field Tab</div>
<svg class="r" style="left:1822px;top:1890px;" width="24" height="28" viewBox="0 0 24 28">
<polyline points="5.8,6 12,12.2 18.2,6" fill="none" stroke="#929292" stroke-width="3.6" stroke-linecap="round" stroke-linejoin="round"/>
<polyline points="5.8,18 12,24.2 18.2,18" fill="none" stroke="#929292" stroke-width="3.6" stroke-linecap="round" stroke-linejoin="round"/>
</svg>
<div class="r" style="left:1886px;top:1868px;width:466px;height:72px;background:#F1F2F4;border-radius:0 11px 11px 0;"></div>
<div class="r" style="left:1886px;top:1868px;width:10px;height:72px;background:#6D6598;"></div>
<div class="t" style="left:1916.5px;top:1892.08px;font-size:24px;line-height:24px;color:#000000;font-weight:400;white-space:nowrap;letter-spacing:0.3px;">acunalia</div>
<svg class="r" style="left:2312px;top:1890px;" width="24" height="28" viewBox="0 0 24 28">
<polyline points="5.8,6 12,12.2 18.2,6" fill="none" stroke="#929292" stroke-width="3.6" stroke-linecap="round" stroke-linejoin="round"/>
<polyline points="5.8,18 12,24.2 18.2,18" fill="none" stroke="#929292" stroke-width="3.6" stroke-linecap="round" stroke-linejoin="round"/>
</svg>
<div class="t" style="left:2407.5px;width:400px;text-align:center;top:1892.08px;font-size:24px;line-height:24px;color:#000000;font-weight:400;">-</div>
<div class="r" style="left:2866px;top:1868px;width:466px;height:72px;background:#F1F2F4;border-radius:0 11px 11px 0;"></div>
<div class="r" style="left:2866px;top:1868px;width:10px;height:72px;background:#7DB46D;"></div>
<div class="t" style="left:2896.5px;top:1892.08px;font-size:24px;line-height:24px;color:#000000;font-weight:400;white-space:nowrap;letter-spacing:0.3px;">ACUNI: Scrum Bug Screen Sch...</div>
<svg class="r" style="left:3292px;top:1890px;" width="24" height="28" viewBox="0 0 24 28">
<polyline points="5.8,6 12,12.2 18.2,6" fill="none" stroke="#929292" stroke-width="3.6" stroke-linecap="round" stroke-linejoin="round"/>
<polyline points="5.8,18 12,24.2 18.2,18" fill="none" stroke="#929292" stroke-width="3.6" stroke-linecap="round" stroke-linejoin="round"/>
</svg>
<div class="r" style="left:550px;top:1898px;width:2810px;height:2px;background:#BABFC4;"></div>
<div class="r" style="left:550px;top:1900px;width:2810px;height:116px;background:#EBECF0;"></div>
<div class="r" style="left:548px;top:1900px;width:2px;height:116px;background:#DFE1E6;"></div>
<div class="r" style="left:3344px;top:188px;width:14px;height:1710px;background:#FFFFFF;"></div>
<div class="r" style="left:3344px;top:188px;width:13px;height:1330px;background:#C1C5CC;border-radius:7px;"></div>
<div class="r" style="left:576px;top:1942px;width:32px;height:32px;border-radius:5px;background:#1C53C6;"></div>
<svg class="r" style="left:576px;top:1942px;" width="32" height="32" viewBox="0 0 32 32"><polyline points="8.3,17.2 14,22.8 23.4,8.3" fill="none" stroke="#E9EDF6" stroke-width="4.4" stroke-linecap="round" stroke-linejoin="round"/></svg>
<div class="t" style="left:623.5px;top:1944.50px;font-size:28px;line-height:28px;color:#172B4D;font-weight:400;">0 / 206</div>
<svg class="r" style="left:764px;top:1942px;" width="36" height="32" viewBox="0 0 36 32">
<circle cx="4.8" cy="5.3" r="2.8" fill="#1C53C6"/><circle cx="4.8" cy="16.1" r="2.8" fill="#1C53C6"/><circle cx="4.8" cy="26.8" r="2.8" fill="#1C53C6"/>
<line x1="15.2" y1="5.3" x2="31.5" y2="5.3" stroke="#1C53C6" stroke-width="5" stroke-linecap="round"/>
<line x1="15.2" y1="16.1" x2="31.5" y2="16.1" stroke="#1C53C6" stroke-width="5" stroke-linecap="round"/>
<line x1="15.2" y1="26.8" x2="31.5" y2="26.8" stroke="#1C53C6" stroke-width="5" stroke-linecap="round"/>
</svg>
<div class="t" style="left:813.8px;top:1944.50px;font-size:28px;line-height:28px;color:#172B4D;font-weight:400;">206</div>
<svg class="r" style="left:1690px;top:1938px;" width="28" height="40" viewBox="0 0 28 40"><polyline points="18.8,9.8 9.8,19.6 18.8,29.4" fill="none" stroke="#A5ADBA" stroke-width="4" stroke-linecap="round" stroke-linejoin="round"/></svg>
<div class="r" style="left:1736px;top:1926px;width:64px;height:64px;background:#253858;border-radius:7px;"></div>
<div class="t" style="left:1736.0px;width:64px;text-align:center;top:1944.30px;font-size:28px;line-height:28px;color:#FFFFFF;font-weight:400;">1</div>
<div class="t" style="left:1802.0px;width:60px;text-align:center;top:1944.30px;font-size:28px;line-height:28px;color:#505F79;font-weight:400;">2</div>
<div class="t" style="left:1865.0px;width:60px;text-align:center;top:1944.30px;font-size:28px;line-height:28px;color:#505F79;font-weight:400;">3</div>
<div class="t" style="left:1928.0px;width:60px;text-align:center;top:1944.30px;font-size:28px;line-height:28px;color:#505F79;font-weight:400;">4</div>
<div class="t" style="left:1993.0px;width:60px;text-align:center;top:1944.30px;font-size:28px;line-height:28px;color:#505F79;font-weight:400;">5</div>
<div class="t" style="left:2111.0px;width:60px;text-align:center;top:1944.30px;font-size:28px;line-height:28px;color:#505F79;font-weight:400;">8</div>
<div class="t" style="left:2052.0px;width:60px;text-align:center;top:1944.30px;font-size:28px;line-height:28px;color:#172B4D;font-weight:400;">...</div>
<svg class="r" style="left:2192px;top:1938px;" width="28" height="40" viewBox="0 0 28 40"><polyline points="9.5,9.8 18.5,19.6 9.5,29.4" fill="none" stroke="#505F79" stroke-width="4" stroke-linecap="round" stroke-linejoin="round"/></svg>
<div class="r" style="left:2956px;top:1926px;width:180px;height:64px;background:#1C54C8;border-radius:7px;"></div>
<svg class="r" style="left:2990px;top:1944px;" width="28" height="28" viewBox="0 0 28 28"><line x1="13.9" y1="4" x2="13.9" y2="24" stroke="#fff" stroke-width="4" stroke-linecap="round"/><line x1="3.9" y1="14" x2="23.9" y2="14" stroke="#fff" stroke-width="4" stroke-linecap="round"/></svg>
<div class="t" style="left:3026.0px;top:1944.30px;font-size:28px;line-height:28px;color:#FFFFFF;font-weight:400;">Create</div>
<div class="r" style="left:3146px;top:1926px;width:184px;height:64px;background:#E2E4E9;border-radius:7px;"></div>
<svg class="r" style="left:3176px;top:1940px;" width="36" height="36" viewBox="0 0 36 36">
<path d="M1.9,8 L1.9,6 Q1.9,4.2 3.7,4.2 L12,4.2 L12,3 Q12,2 13,2 L22.9,2 Q23.9,2 23.9,3 L23.9,4.2 L32.1,4.2 Q33.9,4.2 33.9,6 L33.9,8 Z" fill="#A5ADBA"/>
<path d="M4,10 L32,10 L28.3,32 Q28,33.8 26,33.8 L9.8,33.8 Q7.8,33.8 7.6,32 Z" fill="#A5ADBA"/>
</svg>
<div class="t" style="left:3225.0px;top:1944.30px;font-size:28px;line-height:28px;color:#A5ADBA;font-weight:400;">Delete</div>
</div>
</body></html>
